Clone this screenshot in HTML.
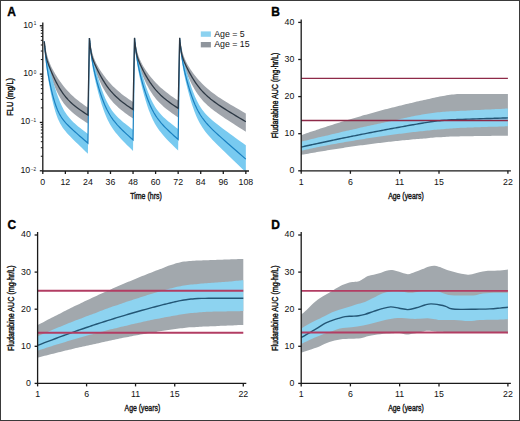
<!DOCTYPE html><html><head><meta charset="utf-8"><style>html,body{margin:0;padding:0;background:#fff;overflow:hidden}svg{display:block}text{font-family:"Liberation Sans",sans-serif}</style></head><body>
<svg width="520" height="421" viewBox="0 0 520 421">
<rect x="0" y="0" width="520" height="421" fill="#fff"/>
<rect x="0.5" y="0.5" width="519" height="420" fill="none" stroke="#3a3a3a" stroke-width="1"/>
<text x="7.2" y="15.8" font-size="12" font-weight="bold" fill="#000" stroke="#000" stroke-width="0.35">A</text>
<text x="271.2" y="15.7" font-size="12" font-weight="bold" fill="#000" stroke="#000" stroke-width="0.35">B</text>
<text x="7.6" y="228.5" font-size="12" font-weight="bold" fill="#000" stroke="#000" stroke-width="0.35">C</text>
<text x="271.2" y="228.5" font-size="12" font-weight="bold" fill="#000" stroke="#000" stroke-width="0.35">D</text>
<defs><clipPath id="clipA"><rect x="42.8" y="20" width="203.54" height="151"/></clipPath></defs>
<g clip-path="url(#clipA)">
<polygon points="44.3,40.3 44.34,40.56 44.34,40.57 44.35,40.58 44.35,40.6 44.35,40.61 44.35,40.63 44.35,40.65 44.36,40.66 44.36,40.68 44.36,40.7 44.37,40.72 44.37,40.74 44.37,40.77 44.38,40.79 44.38,40.82 44.38,40.84 44.39,40.87 44.39,40.9 44.4,40.93 44.4,40.97 44.41,41 44.41,41.04 44.42,41.07 44.42,41.11 44.43,41.16 44.44,41.2 44.44,41.25 44.45,41.29 44.46,41.35 44.47,41.4 44.48,41.46 44.49,41.51 44.49,41.58 44.5,41.64 44.52,41.71 44.53,41.78 44.54,41.86 44.55,41.94 44.56,42.02 44.58,42.11 44.59,42.2 44.61,42.3 44.62,42.4 44.64,42.5 44.65,42.61 44.67,42.73 44.69,42.85 44.71,42.98 44.73,43.11 44.76,43.25 44.78,43.4 44.8,43.55 44.83,43.72 44.86,43.88 44.89,44.06 44.92,44.24 44.95,44.44 44.98,44.64 45.02,44.85 45.06,45.07 45.09,45.3 45.14,45.54 45.18,45.79 45.22,46.05 45.27,46.32 45.32,46.61 45.38,46.9 45.43,47.21 45.49,47.53 45.55,47.86 45.62,48.2 45.69,48.56 45.76,48.93 45.83,49.32 45.91,49.71 46,50.12 46.09,50.55 46.18,50.99 46.28,51.44 46.38,51.91 46.49,52.38 46.6,52.88 46.72,53.38 46.85,53.9 46.98,54.44 47.12,54.98 47.26,55.54 47.42,56.11 47.58,56.69 47.75,57.28 47.93,57.88 48.12,58.49 48.32,59.11 48.53,59.75 48.75,60.39 48.98,61.04 49.22,61.7 49.48,62.37 49.75,63.06 50.03,63.75 50.33,64.45 50.64,65.17 50.97,65.9 51.32,66.64 51.68,67.4 52.07,68.17 52.47,68.96 52.9,69.77 53.34,70.61 53.82,71.46 54.31,72.34 54.83,73.24 55.38,74.17 55.96,75.12 56.56,76.1 57.2,77.11 57.87,78.15 58.58,79.22 59.32,80.32 60.11,81.44 60.93,82.59 61.79,83.76 62.71,84.96 63.66,86.18 64.67,87.43 65.73,88.69 66.85,89.96 68.02,91.26 69.26,92.56 70.56,93.88 71.92,95.2 73.36,96.54 74.88,97.88 76.47,99.23 78.14,100.58 79.9,101.95 81.76,103.33 83.71,104.72 85.76,106.14 87.92,107.57 87.92,107.5 89.42,37.99 89.46,38.24 89.46,38.25 89.47,38.27 89.47,38.28 89.47,38.3 89.47,38.31 89.47,38.33 89.48,38.35 89.48,38.37 89.48,38.38 89.49,38.41 89.49,38.43 89.49,38.45 89.5,38.47 89.5,38.5 89.5,38.52 89.51,38.55 89.51,38.58 89.52,38.61 89.52,38.64 89.53,38.68 89.53,38.71 89.54,38.75 89.54,38.79 89.55,38.83 89.56,38.87 89.56,38.92 89.57,38.97 89.58,39.02 89.59,39.07 89.6,39.12 89.61,39.18 89.61,39.24 89.62,39.31 89.64,39.37 89.65,39.44 89.66,39.52 89.67,39.6 89.68,39.68 89.7,39.76 89.71,39.85 89.73,39.95 89.74,40.05 89.76,40.15 89.77,40.26 89.79,40.37 89.81,40.49 89.83,40.62 89.85,40.75 89.88,40.89 89.9,41.03 89.92,41.18 89.95,41.34 89.98,41.5 90.01,41.68 90.04,41.86 90.07,42.05 90.1,42.25 90.14,42.45 90.18,42.67 90.21,42.89 90.26,43.13 90.3,43.38 90.34,43.63 90.39,43.9 90.44,44.18 90.5,44.47 90.55,44.77 90.61,45.08 90.67,45.41 90.74,45.75 90.81,46.1 90.88,46.46 90.95,46.84 91.03,47.23 91.12,47.63 91.21,48.05 91.3,48.48 91.4,48.92 91.5,49.38 91.61,49.85 91.72,50.34 91.84,50.83 91.97,51.34 92.1,51.86 92.24,52.4 92.38,52.94 92.54,53.5 92.7,54.07 92.87,54.64 93.05,55.23 93.24,55.83 93.44,56.43 93.65,57.05 93.87,57.67 94.1,58.3 94.34,58.94 94.6,59.58 94.87,60.24 95.15,60.9 95.45,61.57 95.76,62.25 96.09,62.94 96.44,63.65 96.8,64.36 97.19,65.09 97.59,65.83 98.02,66.59 98.46,67.36 98.94,68.15 99.43,68.97 99.95,69.8 100.5,70.66 101.08,71.54 101.68,72.44 102.32,73.37 102.99,74.32 103.7,75.3 104.44,76.31 105.23,77.34 106.05,78.39 106.91,79.47 107.83,80.57 108.78,81.7 109.79,82.84 110.85,84 111.97,85.19 113.14,86.39 114.38,87.6 115.68,88.83 117.04,90.07 118.48,91.33 120,92.6 121.59,93.88 123.26,95.18 125.02,96.49 126.88,97.82 128.83,99.18 130.88,100.55 133.04,101.96 133.04,101.91 134.54,37.77 134.58,38.02 134.58,38.03 134.59,38.04 134.59,38.06 134.59,38.07 134.59,38.09 134.59,38.1 134.6,38.12 134.6,38.14 134.6,38.16 134.61,38.18 134.61,38.2 134.61,38.22 134.62,38.25 134.62,38.27 134.62,38.3 134.63,38.32 134.63,38.35 134.64,38.38 134.64,38.41 134.65,38.45 134.65,38.48 134.66,38.52 134.66,38.56 134.67,38.6 134.68,38.64 134.68,38.69 134.69,38.73 134.7,38.78 134.71,38.83 134.72,38.89 134.73,38.95 134.73,39.01 134.74,39.07 134.76,39.14 134.77,39.21 134.78,39.28 134.79,39.36 134.8,39.44 134.82,39.52 134.83,39.61 134.85,39.7 134.86,39.8 134.88,39.9 134.89,40.01 134.91,40.12 134.93,40.24 134.95,40.37 134.97,40.5 135,40.63 135.02,40.78 135.04,40.93 135.07,41.08 135.1,41.25 135.13,41.42 135.16,41.6 135.19,41.78 135.22,41.98 135.26,42.18 135.3,42.4 135.33,42.62 135.38,42.85 135.42,43.1 135.46,43.35 135.51,43.61 135.56,43.89 135.62,44.17 135.67,44.47 135.73,44.78 135.79,45.1 135.86,45.44 135.93,45.78 136,46.14 136.07,46.51 136.15,46.9 136.24,47.3 136.33,47.71 136.42,48.13 136.52,48.57 136.62,49.02 136.73,49.48 136.84,49.96 136.96,50.45 137.09,50.95 137.22,51.47 137.36,51.99 137.5,52.53 137.66,53.07 137.82,53.63 137.99,54.2 138.17,54.78 138.36,55.36 138.56,55.96 138.77,56.56 138.99,57.17 139.22,57.79 139.46,58.42 139.72,59.05 139.99,59.69 140.27,60.34 140.57,61 140.88,61.67 141.21,62.34 141.56,63.03 141.92,63.73 142.31,64.44 142.71,65.17 143.14,65.91 143.58,66.67 144.06,67.44 144.55,68.24 145.07,69.05 145.62,69.89 146.2,70.75 146.8,71.63 147.44,72.54 148.11,73.47 148.82,74.43 149.56,75.41 150.35,76.41 151.17,77.44 152.03,78.49 152.95,79.57 153.9,80.67 154.91,81.78 155.97,82.92 157.09,84.07 158.26,85.24 159.5,86.43 160.8,87.63 162.16,88.85 163.6,90.08 165.12,91.32 166.71,92.58 168.38,93.85 170.14,95.15 172,96.46 173.95,97.8 176,99.16 178.16,100.55 178.16,100.5 179.66,37.7 179.7,37.95 179.7,37.96 179.71,37.98 179.71,37.99 179.71,38.01 179.71,38.02 179.72,38.04 179.72,38.06 179.72,38.08 179.72,38.1 179.73,38.12 179.73,38.15 179.74,38.17 179.74,38.2 179.74,38.22 179.75,38.25 179.75,38.28 179.76,38.31 179.76,38.35 179.77,38.38 179.77,38.42 179.78,38.46 179.79,38.5 179.79,38.54 179.8,38.59 179.81,38.64 179.82,38.69 179.82,38.74 179.83,38.8 179.84,38.86 179.85,38.92 179.86,38.99 179.87,39.06 179.89,39.13 179.9,39.21 179.91,39.29 179.92,39.38 179.94,39.47 179.95,39.56 179.97,39.66 179.99,39.77 180,39.88 180.02,39.99 180.04,40.12 180.06,40.24 180.09,40.38 180.11,40.52 180.13,40.67 180.16,40.82 180.19,40.99 180.22,41.16 180.25,41.34 180.28,41.53 180.31,41.73 180.35,41.94 180.39,42.16 180.43,42.38 180.47,42.62 180.51,42.87 180.56,43.13 180.61,43.41 180.66,43.69 180.72,43.99 180.78,44.3 180.84,44.62 180.9,44.96 180.97,45.31 181.04,45.67 181.12,46.05 181.2,46.45 181.28,46.85 181.37,47.28 181.47,47.71 181.57,48.16 181.67,48.63 181.78,49.11 181.9,49.61 182.02,50.12 182.16,50.64 182.29,51.18 182.44,51.73 182.59,52.29 182.75,52.86 182.92,53.45 183.1,54.05 183.29,54.65 183.49,55.27 183.71,55.9 183.93,56.54 184.16,57.18 184.41,57.84 184.68,58.5 184.95,59.17 185.24,59.85 185.55,60.54 185.88,61.23 186.22,61.94 186.58,62.66 186.97,63.4 187.37,64.14 187.79,64.91 188.24,65.68 188.72,66.48 189.22,67.3 189.74,68.14 190.3,69 190.89,69.89 191.51,70.8 192.16,71.73 192.85,72.7 193.58,73.69 194.35,74.71 195.16,75.76 196.02,76.83 196.92,77.93 197.87,79.05 198.88,80.2 199.94,81.37 201.06,82.57 202.24,83.78 203.49,85.01 204.81,86.26 206.2,87.53 207.66,88.81 209.21,90.11 210.84,91.43 212.56,92.76 214.38,94.11 216.3,95.49 218.32,96.88 220.45,98.31 222.71,99.77 225.09,101.27 227.59,102.81 230.24,104.41 233.03,106.06 235.98,107.77 239.09,109.56 242.38,111.43 245.84,113.38 245.84,131.74 242.38,129.54 239.09,127.45 235.98,125.46 233.03,123.57 230.24,121.77 227.59,120.04 225.09,118.39 222.71,116.81 220.45,115.28 218.32,113.8 216.3,112.36 214.38,110.94 212.56,109.56 210.84,108.19 209.21,106.83 207.66,105.47 206.2,104.11 204.81,102.75 203.49,101.38 202.24,100.01 201.06,98.62 199.94,97.24 198.88,95.84 197.87,94.45 196.92,93.06 196.02,91.67 195.16,90.29 194.35,88.93 193.58,87.58 192.85,86.25 192.16,84.95 191.51,83.67 190.89,82.43 190.3,81.21 189.74,80.03 189.22,78.89 188.72,77.78 188.24,76.7 187.79,75.67 187.37,74.67 186.97,73.71 186.58,72.78 186.22,71.9 185.88,71.04 185.55,70.23 185.24,69.45 184.95,68.7 184.68,67.98 184.41,67.29 184.16,66.64 183.93,66.01 183.71,65.41 183.49,64.83 183.29,64.27 183.1,63.74 182.92,63.23 182.75,62.73 182.59,62.24 182.44,61.77 182.29,61.31 182.16,60.85 182.02,60.4 181.9,59.96 181.78,59.51 181.67,59.07 181.57,58.62 181.47,58.17 181.37,57.71 181.28,57.25 181.2,56.79 181.12,56.32 181.04,55.84 180.97,55.36 180.9,54.88 180.84,54.39 180.78,53.9 180.72,53.41 180.66,52.92 180.61,52.43 180.56,51.94 180.51,51.45 180.47,50.97 180.43,50.5 180.39,50.03 180.35,49.57 180.31,49.11 180.28,48.67 180.25,48.24 180.22,47.82 180.19,47.4 180.16,47 180.13,46.61 180.11,46.24 180.09,45.87 180.06,45.52 180.04,45.18 180.02,44.85 180,44.53 179.99,44.23 179.97,43.93 179.95,43.65 179.94,43.38 179.92,43.12 179.91,42.87 179.9,42.63 179.89,42.41 179.87,42.19 179.86,41.98 179.85,41.78 179.84,41.59 179.83,41.41 179.82,41.23 179.82,41.07 179.81,40.91 179.8,40.76 179.79,40.62 179.79,40.48 179.78,40.35 179.77,40.23 179.77,40.11 179.76,40 179.76,39.89 179.75,39.79 179.75,39.69 179.74,39.6 179.74,39.51 179.74,39.43 179.73,39.35 179.73,39.27 179.72,39.2 179.72,39.14 179.72,39.07 179.72,39.01 179.71,38.95 179.71,38.9 179.71,38.85 179.71,38.8 179.7,38.75 179.7,38.7 179.66,37.89 178.16,117.35 178.16,117.46 176,116 173.95,114.59 172,113.21 170.14,111.86 168.38,110.54 166.71,109.24 165.12,107.94 163.6,106.66 162.16,105.37 160.8,104.08 159.5,102.79 158.26,101.49 157.09,100.19 155.97,98.88 154.91,97.56 153.9,96.24 152.95,94.91 152.03,93.59 151.17,92.27 150.35,90.96 149.56,89.66 148.82,88.38 148.11,87.11 147.44,85.86 146.8,84.63 146.2,83.43 145.62,82.26 145.07,81.11 144.55,80 144.06,78.92 143.58,77.87 143.14,76.85 142.71,75.86 142.31,74.91 141.92,74 141.56,73.11 141.21,72.26 140.88,71.44 140.57,70.66 140.27,69.9 139.99,69.18 139.72,68.48 139.46,67.81 139.22,67.17 138.99,66.56 138.77,65.97 138.56,65.4 138.36,64.86 138.17,64.34 137.99,63.83 137.82,63.34 137.66,62.87 137.5,62.41 137.36,61.96 137.22,61.52 137.09,61.08 136.96,60.66 136.84,60.23 136.73,59.81 136.62,59.39 136.52,58.97 136.42,58.54 136.33,58.11 136.24,57.68 136.15,57.25 136.07,56.81 136,56.36 135.93,55.91 135.86,55.46 135.79,55 135.73,54.54 135.67,54.08 135.62,53.61 135.56,53.15 135.51,52.68 135.46,52.22 135.42,51.76 135.38,51.3 135.33,50.85 135.3,50.4 135.26,49.96 135.22,49.52 135.19,49.1 135.16,48.68 135.13,48.27 135.1,47.87 135.07,47.48 135.04,47.1 135.02,46.73 135,46.37 134.97,46.02 134.95,45.68 134.93,45.36 134.91,45.04 134.89,44.73 134.88,44.44 134.86,44.16 134.85,43.88 134.83,43.62 134.82,43.36 134.8,43.12 134.79,42.89 134.78,42.66 134.77,42.44 134.76,42.24 134.74,42.04 134.73,41.85 134.73,41.67 134.72,41.49 134.71,41.33 134.7,41.17 134.69,41.01 134.68,40.87 134.68,40.73 134.67,40.59 134.66,40.47 134.66,40.35 134.65,40.23 134.65,40.12 134.64,40.01 134.64,39.91 134.63,39.82 134.63,39.73 134.62,39.64 134.62,39.55 134.62,39.47 134.61,39.4 134.61,39.33 134.61,39.26 134.6,39.19 134.6,39.13 134.6,39.07 134.59,39.01 134.59,38.96 134.59,38.91 134.59,38.86 134.59,38.81 134.58,38.77 134.58,38.73 134.54,37.91 133.04,118.42 133.04,118.54 130.88,117.07 128.83,115.65 126.88,114.27 125.02,112.92 123.26,111.58 121.59,110.27 120,108.96 118.48,107.66 117.04,106.35 115.68,105.05 114.38,103.73 113.14,102.41 111.97,101.08 110.85,99.74 109.79,98.4 108.78,97.05 107.83,95.7 106.91,94.35 106.05,93 105.23,91.67 104.44,90.34 103.7,89.03 102.99,87.73 102.32,86.46 101.68,85.21 101.08,83.99 100.5,82.79 99.95,81.63 99.43,80.5 98.94,79.4 98.46,78.33 98.02,77.3 97.59,76.3 97.19,75.33 96.8,74.4 96.44,73.51 96.09,72.64 95.76,71.82 95.45,71.02 95.15,70.25 94.87,69.52 94.6,68.82 94.34,68.14 94.1,67.49 93.87,66.87 93.65,66.28 93.44,65.7 93.24,65.15 93.05,64.62 92.87,64.11 92.7,63.62 92.54,63.14 92.38,62.67 92.24,62.22 92.1,61.78 91.97,61.34 91.84,60.91 91.72,60.48 91.61,60.05 91.5,59.63 91.4,59.2 91.3,58.77 91.21,58.34 91.12,57.91 91.03,57.47 90.95,57.02 90.88,56.57 90.81,56.12 90.74,55.66 90.67,55.2 90.61,54.73 90.55,54.27 90.5,53.8 90.44,53.33 90.39,52.86 90.34,52.39 90.3,51.93 90.26,51.47 90.21,51.01 90.18,50.56 90.14,50.12 90.1,49.68 90.07,49.25 90.04,48.83 90.01,48.42 89.98,48.01 89.95,47.62 89.92,47.24 89.9,46.87 89.88,46.51 89.85,46.15 89.83,45.81 89.81,45.49 89.79,45.17 89.77,44.86 89.76,44.56 89.74,44.28 89.73,44 89.71,43.74 89.7,43.48 89.68,43.24 89.67,43 89.66,42.77 89.65,42.56 89.64,42.35 89.62,42.15 89.61,41.96 89.61,41.78 89.6,41.6 89.59,41.43 89.58,41.27 89.57,41.12 89.56,40.97 89.56,40.83 89.55,40.7 89.54,40.57 89.54,40.45 89.53,40.33 89.53,40.22 89.52,40.11 89.52,40.01 89.51,39.92 89.51,39.83 89.5,39.74 89.5,39.65 89.5,39.57 89.49,39.5 89.49,39.43 89.49,39.36 89.48,39.29 89.48,39.23 89.48,39.17 89.47,39.11 89.47,39.06 89.47,39.01 89.47,38.96 89.47,38.91 89.46,38.87 89.46,38.82 89.42,38 87.92,123.44 87.92,123.6 85.76,122.18 83.71,120.81 81.76,119.48 79.9,118.19 78.14,116.93 76.47,115.69 74.88,114.46 73.36,113.25 71.92,112.03 70.56,110.8 69.26,109.57 68.02,108.32 66.85,107.06 65.73,105.78 64.67,104.47 63.66,103.15 62.71,101.81 61.79,100.46 60.93,99.09 60.11,97.72 59.32,96.34 58.58,94.97 57.87,93.6 57.2,92.24 56.56,90.9 55.96,89.58 55.38,88.27 54.83,86.99 54.31,85.74 53.82,84.52 53.34,83.34 52.9,82.18 52.47,81.06 52.07,79.97 51.68,78.92 51.32,77.91 50.97,76.93 50.64,75.99 50.33,75.08 50.03,74.21 49.75,73.37 49.48,72.57 49.22,71.8 48.98,71.06 48.75,70.35 48.53,69.67 48.32,69.02 48.12,68.39 47.93,67.8 47.75,67.22 47.58,66.67 47.42,66.15 47.26,65.64 47.12,65.15 46.98,64.68 46.85,64.22 46.72,63.78 46.6,63.35 46.49,62.93 46.38,62.51 46.28,62.11 46.18,61.71 46.09,61.32 46,60.93 45.91,60.54 45.83,60.16 45.76,59.78 45.69,59.39 45.62,59.01 45.55,58.63 45.49,58.24 45.43,57.86 45.38,57.47 45.32,57.09 45.27,56.71 45.22,56.32 45.18,55.94 45.14,55.56 45.09,55.19 45.06,54.81 45.02,54.45 44.98,54.08 44.95,53.72 44.92,53.37 44.89,53.02 44.86,52.68 44.83,52.34 44.8,52.01 44.78,51.69 44.76,51.38 44.73,51.07 44.71,50.78 44.69,50.49 44.67,50.21 44.65,49.94 44.64,49.68 44.62,49.42 44.61,49.18 44.59,48.94 44.58,48.71 44.56,48.49 44.55,48.28 44.54,48.07 44.53,47.87 44.52,47.68 44.5,47.5 44.49,47.33 44.49,47.16 44.48,47 44.47,46.84 44.46,46.7 44.45,46.55 44.44,46.42 44.44,46.29 44.43,46.16 44.42,46.04 44.42,45.93 44.41,45.82 44.41,45.72 44.4,45.62 44.4,45.52 44.39,45.43 44.39,45.35 44.38,45.27 44.38,45.19 44.38,45.11 44.37,45.04 44.37,44.97 44.37,44.91 44.36,44.84 44.36,44.79 44.36,44.73 44.35,44.68 44.35,44.62 44.35,44.58 44.35,44.53 44.35,44.49 44.34,44.44 44.34,44.4 44.3,43.62" fill="#a0a5ac"/>
<polygon points="44.3,41.07 44.34,41.5 44.34,41.52 44.35,41.54 44.35,41.57 44.35,41.59 44.35,41.62 44.35,41.64 44.36,41.67 44.36,41.7 44.36,41.74 44.37,41.77 44.37,41.81 44.37,41.84 44.38,41.88 44.38,41.92 44.38,41.97 44.39,42.01 44.39,42.06 44.4,42.11 44.4,42.16 44.41,42.21 44.41,42.27 44.42,42.33 44.42,42.39 44.43,42.46 44.44,42.52 44.44,42.59 44.45,42.67 44.46,42.75 44.47,42.83 44.48,42.91 44.49,43 44.49,43.09 44.5,43.19 44.52,43.29 44.53,43.4 44.54,43.51 44.55,43.62 44.56,43.74 44.58,43.86 44.59,43.99 44.61,44.13 44.62,44.27 44.64,44.41 44.65,44.56 44.67,44.72 44.69,44.88 44.71,45.05 44.73,45.22 44.76,45.4 44.78,45.59 44.8,45.78 44.83,45.98 44.86,46.19 44.89,46.4 44.92,46.62 44.95,46.85 44.98,47.08 45.02,47.32 45.06,47.57 45.09,47.82 45.14,48.08 45.18,48.35 45.22,48.63 45.27,48.92 45.32,49.21 45.38,49.51 45.43,49.83 45.49,50.15 45.55,50.48 45.62,50.82 45.69,51.17 45.76,51.53 45.83,51.9 45.91,52.29 46,52.69 46.09,53.11 46.18,53.53 46.28,53.98 46.38,54.44 46.49,54.93 46.6,55.43 46.72,55.95 46.85,56.5 46.98,57.07 47.12,57.66 47.26,58.29 47.42,58.94 47.58,59.62 47.75,60.34 47.93,61.08 48.12,61.87 48.32,62.69 48.53,63.54 48.75,64.44 48.98,65.38 49.22,66.37 49.48,67.39 49.75,68.47 50.03,69.59 50.33,70.77 50.64,71.99 50.97,73.27 51.32,74.59 51.68,75.98 52.07,77.41 52.47,78.9 52.9,80.45 53.34,82.05 53.82,83.7 54.31,85.4 54.83,87.14 55.38,88.94 55.96,90.77 56.56,92.63 57.2,94.52 57.87,96.44 58.58,98.36 59.32,100.29 60.11,102.21 60.93,104.11 61.79,105.99 62.71,107.83 63.66,109.63 64.67,111.38 65.73,113.08 66.85,114.72 68.02,116.3 69.26,117.84 70.56,119.33 71.92,120.78 73.36,122.2 74.88,123.61 76.47,125.01 78.14,126.42 79.9,127.84 81.76,129.3 83.71,130.8 85.76,132.35 87.92,133.95 87.92,133.71 89.42,38 89.46,38.49 89.46,38.52 89.47,38.54 89.47,38.57 89.47,38.6 89.47,38.63 89.47,38.66 89.48,38.7 89.48,38.73 89.48,38.77 89.49,38.81 89.49,38.85 89.49,38.89 89.5,38.94 89.5,38.99 89.5,39.04 89.51,39.09 89.51,39.14 89.52,39.2 89.52,39.26 89.53,39.32 89.53,39.39 89.54,39.46 89.54,39.53 89.55,39.6 89.56,39.68 89.56,39.77 89.57,39.85 89.58,39.94 89.59,40.04 89.6,40.14 89.61,40.24 89.61,40.35 89.62,40.46 89.64,40.57 89.65,40.7 89.66,40.82 89.67,40.96 89.68,41.09 89.7,41.24 89.71,41.39 89.73,41.54 89.74,41.7 89.76,41.87 89.77,42.04 89.79,42.22 89.81,42.41 89.83,42.6 89.85,42.8 89.88,43.01 89.9,43.22 89.92,43.44 89.95,43.67 89.98,43.9 90.01,44.15 90.04,44.39 90.07,44.65 90.1,44.91 90.14,45.18 90.18,45.46 90.21,45.74 90.26,46.03 90.3,46.33 90.34,46.63 90.39,46.95 90.44,47.27 90.5,47.59 90.55,47.93 90.61,48.27 90.67,48.62 90.74,48.97 90.81,49.34 90.88,49.71 90.95,50.1 91.03,50.49 91.12,50.9 91.21,51.32 91.3,51.75 91.4,52.19 91.5,52.65 91.61,53.12 91.72,53.61 91.84,54.12 91.97,54.65 92.1,55.2 92.24,55.78 92.38,56.38 92.54,57 92.7,57.65 92.87,58.33 93.05,59.05 93.24,59.79 93.44,60.57 93.65,61.39 93.87,62.24 94.1,63.13 94.34,64.06 94.6,65.04 94.87,66.06 95.15,67.12 95.45,68.24 95.76,69.4 96.09,70.61 96.44,71.86 96.8,73.17 97.19,74.53 97.59,75.95 98.02,77.41 98.46,78.92 98.94,80.49 99.43,82.1 99.95,83.76 100.5,85.46 101.08,87.2 101.68,88.97 102.32,90.77 102.99,92.6 103.7,94.44 104.44,96.29 105.23,98.14 106.05,99.97 106.91,101.8 107.83,103.59 108.78,105.35 109.79,107.07 110.85,108.75 111.97,110.38 113.14,111.96 114.38,113.5 115.68,115 117.04,116.47 118.48,117.91 120,119.33 121.59,120.75 123.26,122.18 125.02,123.62 126.88,125.09 128.83,126.6 130.88,128.16 133.04,129.78 133.04,129.58 134.54,37.95 134.58,38.45 134.58,38.47 134.59,38.5 134.59,38.53 134.59,38.55 134.59,38.59 134.59,38.62 134.6,38.65 134.6,38.69 134.6,38.72 134.61,38.76 134.61,38.8 134.61,38.85 134.62,38.89 134.62,38.94 134.62,38.99 134.63,39.04 134.63,39.1 134.64,39.15 134.64,39.21 134.65,39.27 134.65,39.34 134.66,39.41 134.66,39.48 134.67,39.56 134.68,39.63 134.68,39.72 134.69,39.8 134.7,39.89 134.71,39.99 134.72,40.09 134.73,40.19 134.73,40.3 134.74,40.41 134.76,40.52 134.77,40.65 134.78,40.77 134.79,40.9 134.8,41.04 134.82,41.18 134.83,41.33 134.85,41.49 134.86,41.65 134.88,41.82 134.89,41.99 134.91,42.17 134.93,42.35 134.95,42.55 134.97,42.75 135,42.95 135.02,43.16 135.04,43.38 135.07,43.61 135.1,43.84 135.13,44.09 135.16,44.33 135.19,44.59 135.22,44.85 135.26,45.12 135.3,45.39 135.33,45.68 135.38,45.97 135.42,46.26 135.46,46.57 135.51,46.88 135.56,47.2 135.62,47.52 135.67,47.86 135.73,48.2 135.79,48.54 135.86,48.9 135.93,49.27 136,49.64 136.07,50.02 136.15,50.42 136.24,50.82 136.33,51.24 136.42,51.67 136.52,52.11 136.62,52.56 136.73,53.04 136.84,53.53 136.96,54.03 137.09,54.56 137.22,55.11 137.36,55.68 137.5,56.28 137.66,56.9 137.82,57.55 137.99,58.23 138.17,58.94 138.36,59.68 138.56,60.46 138.77,61.27 138.99,62.12 139.22,63 139.46,63.93 139.72,64.9 139.99,65.92 140.27,66.98 140.57,68.08 140.88,69.24 141.21,70.44 141.56,71.69 141.92,72.99 142.31,74.34 142.71,75.74 143.14,77.19 143.58,78.69 144.06,80.24 144.55,81.84 145.07,83.48 145.62,85.17 146.2,86.89 146.8,88.64 147.44,90.42 148.11,92.22 148.82,94.04 149.56,95.86 150.35,97.68 151.17,99.5 152.03,101.29 152.95,103.05 153.9,104.79 154.91,106.48 155.97,108.13 157.09,109.74 158.26,111.3 159.5,112.82 160.8,114.3 162.16,115.75 163.6,117.18 165.12,118.59 166.71,120 168.38,121.42 170.14,122.86 172,124.33 173.95,125.83 176,127.39 178.16,129 178.16,128.81 179.66,37.95 179.7,38.44 179.7,38.46 179.71,38.49 179.71,38.52 179.71,38.55 179.71,38.59 179.72,38.62 179.72,38.66 179.72,38.69 179.72,38.73 179.73,38.78 179.73,38.82 179.74,38.87 179.74,38.92 179.74,38.97 179.75,39.02 179.75,39.08 179.76,39.14 179.76,39.21 179.77,39.27 179.77,39.34 179.78,39.42 179.79,39.49 179.79,39.57 179.8,39.66 179.81,39.75 179.82,39.84 179.82,39.94 179.83,40.04 179.84,40.15 179.85,40.26 179.86,40.38 179.87,40.5 179.89,40.63 179.9,40.76 179.91,40.9 179.92,41.05 179.94,41.2 179.95,41.36 179.97,41.53 179.99,41.7 180,41.88 180.02,42.06 180.04,42.26 180.06,42.46 180.09,42.67 180.11,42.88 180.13,43.1 180.16,43.34 180.19,43.57 180.22,43.82 180.25,44.08 180.28,44.34 180.31,44.61 180.35,44.89 180.39,45.17 180.43,45.47 180.47,45.77 180.51,46.08 180.56,46.4 180.61,46.72 180.66,47.06 180.72,47.4 180.78,47.75 180.84,48.11 180.9,48.47 180.97,48.85 181.04,49.23 181.12,49.63 181.2,50.04 181.28,50.45 181.37,50.88 181.47,51.33 181.57,51.79 181.67,52.26 181.78,52.75 181.9,53.26 182.02,53.78 182.16,54.33 182.29,54.91 182.44,55.5 182.59,56.13 182.75,56.78 182.92,57.46 183.1,58.18 183.29,58.93 183.49,59.72 183.71,60.54 183.93,61.41 184.16,62.32 184.41,63.27 184.68,64.27 184.95,65.31 185.24,66.41 185.55,67.55 185.88,68.75 186.22,70 186.58,71.31 186.97,72.67 187.37,74.09 187.79,75.57 188.24,77.1 188.72,78.69 189.22,80.33 189.74,82.02 190.3,83.76 190.89,85.55 191.51,87.38 192.16,89.24 192.85,91.14 193.58,93.05 194.35,94.97 195.16,96.9 196.02,98.81 196.92,100.71 197.87,102.58 198.88,104.42 199.94,106.21 201.06,107.96 202.24,109.65 203.49,111.3 204.81,112.9 206.2,114.46 207.66,115.98 209.21,117.49 210.84,118.98 212.56,120.48 214.38,121.99 216.3,123.52 218.32,125.1 220.45,126.73 222.71,128.42 225.09,130.18 227.59,132.03 230.24,133.96 233.03,136 235.98,138.15 239.09,140.4 242.38,142.79 245.84,145.3 245.84,172.21 242.38,168.9 239.09,165.76 235.98,162.78 233.03,159.96 230.24,157.28 227.59,154.73 225.09,152.31 222.71,150.01 220.45,147.82 218.32,145.72 216.3,143.71 214.38,141.76 212.56,139.88 210.84,138.04 209.21,136.24 207.66,134.45 206.2,132.67 204.81,130.88 203.49,129.07 202.24,127.23 201.06,125.36 199.94,123.44 198.88,121.48 197.87,119.49 196.92,117.45 196.02,115.39 195.16,113.31 194.35,111.22 193.58,109.12 192.85,107.03 192.16,104.96 191.51,102.92 190.89,100.91 190.3,98.94 189.74,97.02 189.22,95.14 188.72,93.32 188.24,91.55 187.79,89.84 187.37,88.19 186.97,86.59 186.58,85.05 186.22,83.56 185.88,82.12 185.55,80.73 185.24,79.38 184.95,78.08 184.68,76.81 184.41,75.58 184.16,74.39 183.93,73.22 183.71,72.09 183.49,70.98 183.29,69.9 183.1,68.83 182.92,67.79 182.75,66.77 182.59,65.77 182.44,64.79 182.29,63.83 182.16,62.88 182.02,61.96 181.9,61.05 181.78,60.17 181.67,59.3 181.57,58.46 181.47,57.63 181.37,56.83 181.28,56.05 181.2,55.29 181.12,54.56 181.04,53.84 180.97,53.15 180.9,52.48 180.84,51.84 180.78,51.22 180.72,50.62 180.66,50.04 180.61,49.48 180.56,48.95 180.51,48.44 180.47,47.94 180.43,47.47 180.39,47.02 180.35,46.58 180.31,46.17 180.28,45.77 180.25,45.39 180.22,45.03 180.19,44.68 180.16,44.35 180.13,44.03 180.11,43.73 180.09,43.45 180.06,43.17 180.04,42.91 180.02,42.66 180,42.42 179.99,42.2 179.97,41.98 179.95,41.78 179.94,41.59 179.92,41.4 179.91,41.23 179.9,41.06 179.89,40.9 179.87,40.75 179.86,40.61 179.85,40.47 179.84,40.34 179.83,40.22 179.82,40.1 179.82,39.99 179.81,39.88 179.8,39.78 179.79,39.69 179.79,39.6 179.78,39.51 179.77,39.43 179.77,39.36 179.76,39.28 179.76,39.21 179.75,39.15 179.75,39.09 179.74,39.03 179.74,38.97 179.74,38.92 179.73,38.87 179.73,38.82 179.72,38.77 179.72,38.73 179.72,38.69 179.72,38.65 179.71,38.61 179.71,38.58 179.71,38.55 179.71,38.51 179.7,38.48 179.7,38.46 179.66,37.94 178.16,150.06 178.16,150.61 176,148.51 173.95,146.5 172,144.57 170.14,142.71 168.38,140.9 166.71,139.15 165.12,137.43 163.6,135.73 162.16,134.04 160.8,132.36 159.5,130.67 158.26,128.95 157.09,127.21 155.97,125.44 154.91,123.63 153.9,121.79 152.95,119.91 152.03,117.99 151.17,116.05 150.35,114.09 149.56,112.11 148.82,110.13 148.11,108.16 147.44,106.19 146.8,104.24 146.2,102.32 145.62,100.43 145.07,98.58 144.55,96.77 144.06,95.01 143.58,93.29 143.14,91.62 142.71,90 142.31,88.43 141.92,86.92 141.56,85.45 141.21,84.02 140.88,82.65 140.57,81.32 140.27,80.02 139.99,78.77 139.72,77.56 139.46,76.38 139.22,75.23 138.99,74.11 138.77,73.02 138.56,71.95 138.36,70.9 138.17,69.88 137.99,68.88 137.82,67.89 137.66,66.93 137.5,65.98 137.36,65.05 137.22,64.13 137.09,63.23 136.96,62.35 136.84,61.49 136.73,60.64 136.62,59.82 136.52,59.01 136.42,58.21 136.33,57.44 136.24,56.69 136.15,55.95 136.07,55.24 136,54.55 135.93,53.87 135.86,53.22 135.79,52.59 135.73,51.97 135.67,51.38 135.62,50.81 135.56,50.25 135.51,49.72 135.46,49.21 135.42,48.71 135.38,48.24 135.33,47.78 135.3,47.34 135.26,46.91 135.22,46.51 135.19,46.12 135.16,45.75 135.13,45.39 135.1,45.04 135.07,44.72 135.04,44.4 135.02,44.1 135,43.81 134.97,43.54 134.95,43.27 134.93,43.02 134.91,42.78 134.89,42.55 134.88,42.34 134.86,42.13 134.85,41.93 134.83,41.74 134.82,41.55 134.8,41.38 134.79,41.22 134.78,41.06 134.77,40.91 134.76,40.77 134.74,40.63 134.73,40.5 134.73,40.38 134.72,40.26 134.71,40.15 134.7,40.04 134.69,39.94 134.68,39.84 134.68,39.75 134.67,39.66 134.66,39.58 134.66,39.5 134.65,39.42 134.65,39.35 134.64,39.28 134.64,39.21 134.63,39.15 134.63,39.09 134.62,39.04 134.62,38.98 134.62,38.93 134.61,38.88 134.61,38.84 134.61,38.79 134.6,38.75 134.6,38.71 134.6,38.67 134.59,38.64 134.59,38.6 134.59,38.57 134.59,38.54 134.59,38.51 134.58,38.48 134.58,38.46 134.54,37.94 133.04,150.37 133.04,150.93 130.88,148.83 128.83,146.82 126.88,144.89 125.02,143.03 123.26,141.22 121.59,139.46 120,137.74 118.48,136.04 117.04,134.35 115.68,132.66 114.38,130.96 113.14,129.24 111.97,127.49 110.85,125.71 109.79,123.89 108.78,122.03 107.83,120.14 106.91,118.22 106.05,116.26 105.23,114.29 104.44,112.3 103.7,110.31 102.99,108.32 102.32,106.35 101.68,104.39 101.08,102.46 100.5,100.56 99.95,98.71 99.43,96.89 98.94,95.12 98.46,93.39 98.02,91.72 97.59,90.09 97.19,88.52 96.8,87 96.44,85.52 96.09,84.1 95.76,82.72 95.45,81.38 95.15,80.09 94.87,78.83 94.6,77.62 94.34,76.43 94.1,75.28 93.87,74.16 93.65,73.06 93.44,71.99 93.24,70.95 93.05,69.92 92.87,68.92 92.7,67.93 92.54,66.96 92.38,66.01 92.24,65.08 92.1,64.17 91.97,63.27 91.84,62.39 91.72,61.52 91.61,60.67 91.5,59.84 91.4,59.03 91.3,58.24 91.21,57.47 91.12,56.71 91.03,55.98 90.95,55.26 90.88,54.57 90.81,53.9 90.74,53.24 90.67,52.61 90.61,51.99 90.55,51.4 90.5,50.83 90.44,50.27 90.39,49.74 90.34,49.23 90.3,48.73 90.26,48.25 90.21,47.8 90.18,47.35 90.14,46.93 90.1,46.53 90.07,46.14 90.04,45.76 90.01,45.4 89.98,45.06 89.95,44.73 89.92,44.42 89.9,44.12 89.88,43.83 89.85,43.55 89.83,43.29 89.81,43.04 89.79,42.8 89.77,42.57 89.76,42.35 89.74,42.14 89.73,41.94 89.71,41.75 89.7,41.57 89.68,41.39 89.67,41.23 89.66,41.07 89.65,40.92 89.64,40.78 89.62,40.64 89.61,40.51 89.61,40.39 89.6,40.27 89.59,40.16 89.58,40.05 89.57,39.95 89.56,39.85 89.56,39.76 89.55,39.67 89.54,39.59 89.54,39.51 89.53,39.43 89.53,39.36 89.52,39.29 89.52,39.23 89.51,39.16 89.51,39.1 89.5,39.05 89.5,38.99 89.5,38.94 89.49,38.9 89.49,38.85 89.49,38.81 89.48,38.76 89.48,38.72 89.48,38.69 89.47,38.65 89.47,38.62 89.47,38.58 89.47,38.55 89.47,38.52 89.46,38.5 89.46,38.47 89.42,37.96 87.92,153.08 87.92,153.72 85.76,151.65 83.71,149.69 81.76,147.81 79.9,146.03 78.14,144.33 76.47,142.71 74.88,141.16 73.36,139.68 71.92,138.24 70.56,136.86 69.26,135.51 68.02,134.2 66.85,132.9 65.73,131.6 64.67,130.31 63.66,128.99 62.71,127.65 61.79,126.28 60.93,124.86 60.11,123.39 59.32,121.87 58.58,120.29 57.87,118.66 57.2,116.97 56.56,115.25 55.96,113.48 55.38,111.68 54.83,109.86 54.31,108.03 53.82,106.2 53.34,104.37 52.9,102.56 52.47,100.77 52.07,99.01 51.68,97.28 51.32,95.58 50.97,93.93 50.64,92.33 50.33,90.77 50.03,89.25 49.75,87.78 49.48,86.36 49.22,84.98 48.98,83.65 48.75,82.36 48.53,81.11 48.32,79.9 48.12,78.72 47.93,77.58 47.75,76.48 47.58,75.4 47.42,74.35 47.26,73.33 47.12,72.33 46.98,71.36 46.85,70.41 46.72,69.48 46.6,68.57 46.49,67.68 46.38,66.81 46.28,65.96 46.18,65.12 46.09,64.31 46,63.51 45.91,62.73 45.83,61.96 45.76,61.22 45.69,60.49 45.62,59.78 45.55,59.09 45.49,58.42 45.43,57.77 45.38,57.14 45.32,56.52 45.27,55.93 45.22,55.35 45.18,54.79 45.14,54.25 45.09,53.73 45.06,53.23 45.02,52.75 44.98,52.28 44.95,51.83 44.92,51.4 44.89,50.98 44.86,50.58 44.83,50.19 44.8,49.82 44.78,49.47 44.76,49.13 44.73,48.8 44.71,48.49 44.69,48.19 44.67,47.91 44.65,47.63 44.64,47.37 44.62,47.12 44.61,46.88 44.59,46.65 44.58,46.43 44.56,46.22 44.55,46.02 44.54,45.83 44.53,45.65 44.52,45.48 44.5,45.31 44.49,45.15 44.49,45 44.48,44.86 44.47,44.72 44.46,44.59 44.45,44.47 44.44,44.35 44.44,44.24 44.43,44.13 44.42,44.03 44.42,43.93 44.41,43.83 44.41,43.75 44.4,43.66 44.4,43.58 44.39,43.5 44.39,43.43 44.38,43.36 44.38,43.3 44.38,43.23 44.37,43.17 44.37,43.12 44.37,43.06 44.36,43.01 44.36,42.96 44.36,42.92 44.35,42.87 44.35,42.83 44.35,42.79 44.35,42.75 44.35,42.71 44.34,42.68 44.34,42.65 44.3,42.01" fill="#78caf0"/>
<polyline points="44.3,41.19 44.34,41.68 44.34,41.71 44.35,41.74 44.35,41.77 44.35,41.8 44.35,41.83 44.35,41.86 44.36,41.89 44.36,41.93 44.36,41.97 44.37,42.01 44.37,42.05 44.37,42.1 44.38,42.14 44.38,42.19 44.38,42.24 44.39,42.3 44.39,42.35 44.4,42.41 44.4,42.48 44.41,42.54 44.41,42.61 44.42,42.69 44.42,42.76 44.43,42.84 44.44,42.93 44.44,43.02 44.45,43.11 44.46,43.21 44.47,43.31 44.48,43.42 44.49,43.53 44.49,43.65 44.5,43.78 44.52,43.91 44.53,44.04 44.54,44.19 44.55,44.34 44.56,44.5 44.58,44.66 44.59,44.84 44.61,45.02 44.62,45.21 44.64,45.41 44.65,45.62 44.67,45.84 44.69,46.07 44.71,46.31 44.73,46.57 44.76,46.83 44.78,47.11 44.8,47.39 44.83,47.7 44.86,48.01 44.89,48.34 44.92,48.68 44.95,49.04 44.98,49.41 45.02,49.8 45.06,50.21 45.09,50.63 45.14,51.07 45.18,51.53 45.22,52 45.27,52.5 45.32,53.01 45.38,53.54 45.43,54.09 45.49,54.66 45.55,55.26 45.62,55.87 45.69,56.5 45.76,57.16 45.83,57.83 45.91,58.53 46,59.25 46.09,59.98 46.18,60.75 46.28,61.53 46.38,62.33 46.49,63.16 46.6,64.01 46.72,64.88 46.85,65.78 46.98,66.69 47.12,67.63 47.26,68.6 47.42,69.59 47.58,70.6 47.75,71.64 47.93,72.71 48.12,73.81 48.32,74.93 48.53,76.09 48.75,77.28 48.98,78.5 49.22,79.76 49.48,81.05 49.75,82.38 50.03,83.74 50.33,85.15 50.64,86.59 50.97,88.06 51.32,89.58 51.68,91.13 52.07,92.71 52.47,94.31 52.9,95.95 53.34,97.6 53.82,99.27 54.31,100.94 54.83,102.61 55.38,104.28 55.96,105.93 56.56,107.55 57.2,109.15 57.87,110.71 58.58,112.23 59.32,113.7 60.11,115.13 60.93,116.51 61.79,117.85 62.71,119.14 63.66,120.41 64.67,121.64 65.73,122.87 66.85,124.08 68.02,125.29 69.26,126.52 70.56,127.77 71.92,129.05 73.36,130.37 74.88,131.73 76.47,133.15 78.14,134.64 79.9,136.19 81.76,137.81 83.71,139.52 85.76,141.31 87.92,143.19 87.92,142.81 89.42,38 89.46,38.39 89.46,38.41 89.47,38.43 89.47,38.45 89.47,38.47 89.47,38.5 89.47,38.52 89.48,38.55 89.48,38.58 89.48,38.61 89.49,38.64 89.49,38.67 89.49,38.71 89.5,38.75 89.5,38.78 89.5,38.82 89.51,38.87 89.51,38.91 89.52,38.96 89.52,39.01 89.53,39.06 89.53,39.12 89.54,39.17 89.54,39.23 89.55,39.3 89.56,39.36 89.56,39.43 89.57,39.51 89.58,39.59 89.59,39.67 89.6,39.75 89.61,39.84 89.61,39.94 89.62,40.04 89.64,40.14 89.65,40.25 89.66,40.36 89.67,40.48 89.68,40.61 89.7,40.74 89.71,40.88 89.73,41.03 89.74,41.18 89.76,41.34 89.77,41.51 89.79,41.69 89.81,41.87 89.83,42.07 89.85,42.27 89.88,42.48 89.9,42.71 89.92,42.94 89.95,43.19 89.98,43.44 90.01,43.71 90.04,43.99 90.07,44.29 90.1,44.59 90.14,44.91 90.18,45.25 90.21,45.6 90.26,45.96 90.3,46.34 90.34,46.74 90.39,47.16 90.44,47.59 90.5,48.04 90.55,48.5 90.61,48.99 90.67,49.5 90.74,50.02 90.81,50.57 90.88,51.13 90.95,51.72 91.03,52.33 91.12,52.95 91.21,53.6 91.3,54.27 91.4,54.97 91.5,55.68 91.61,56.42 91.72,57.18 91.84,57.96 91.97,58.76 92.1,59.59 92.24,60.43 92.38,61.3 92.54,62.19 92.7,63.11 92.87,64.04 93.05,65 93.24,65.98 93.44,66.98 93.65,68.01 93.87,69.06 94.1,70.14 94.34,71.24 94.6,72.37 94.87,73.53 95.15,74.72 95.45,75.94 95.76,77.2 96.09,78.49 96.44,79.82 96.8,81.18 97.19,82.58 97.59,84.03 98.02,85.51 98.46,87.04 98.94,88.6 99.43,90.21 99.95,91.85 100.5,93.53 101.08,95.25 101.68,96.99 102.32,98.76 102.99,100.54 103.7,102.34 104.44,104.15 105.23,105.96 106.05,107.76 106.91,109.55 107.83,111.32 108.78,113.07 109.79,114.79 110.85,116.48 111.97,118.14 113.14,119.78 114.38,121.39 115.68,122.99 117.04,124.57 118.48,126.15 120,127.74 121.59,129.35 123.26,130.98 125.02,132.66 126.88,134.38 128.83,136.16 130.88,138 133.04,139.93 133.04,139.59 134.54,37.98 134.58,38.36 134.58,38.38 134.59,38.4 134.59,38.43 134.59,38.45 134.59,38.47 134.59,38.5 134.6,38.53 134.6,38.56 134.6,38.59 134.61,38.62 134.61,38.65 134.61,38.69 134.62,38.72 134.62,38.76 134.62,38.8 134.63,38.84 134.63,38.89 134.64,38.94 134.64,38.99 134.65,39.04 134.65,39.09 134.66,39.15 134.66,39.21 134.67,39.27 134.68,39.34 134.68,39.41 134.69,39.48 134.7,39.56 134.71,39.64 134.72,39.73 134.73,39.82 134.73,39.91 134.74,40.01 134.76,40.12 134.77,40.22 134.78,40.34 134.79,40.46 134.8,40.59 134.82,40.72 134.83,40.86 134.85,41 134.86,41.16 134.88,41.32 134.89,41.49 134.91,41.66 134.93,41.85 134.95,42.04 134.97,42.24 135,42.46 135.02,42.68 135.04,42.91 135.07,43.16 135.1,43.42 135.13,43.68 135.16,43.96 135.19,44.26 135.22,44.56 135.26,44.88 135.3,45.22 135.33,45.57 135.38,45.93 135.42,46.31 135.46,46.71 135.51,47.12 135.56,47.55 135.62,48 135.67,48.47 135.73,48.96 135.79,49.46 135.86,49.98 135.93,50.53 136,51.09 136.07,51.68 136.15,52.28 136.24,52.91 136.33,53.56 136.42,54.23 136.52,54.92 136.62,55.64 136.73,56.37 136.84,57.13 136.96,57.91 137.09,58.71 137.22,59.53 137.36,60.38 137.5,61.25 137.66,62.13 137.82,63.04 137.99,63.98 138.17,64.93 138.36,65.91 138.56,66.91 138.77,67.93 138.99,68.98 139.22,70.06 139.46,71.16 139.72,72.28 139.99,73.44 140.27,74.62 140.57,75.84 140.88,77.09 141.21,78.38 141.56,79.7 141.92,81.06 142.31,82.45 142.71,83.89 143.14,85.37 143.58,86.88 144.06,88.44 144.55,90.04 145.07,91.67 145.62,93.34 146.2,95.04 146.8,96.78 147.44,98.53 148.11,100.3 148.82,102.09 149.56,103.88 150.35,105.68 151.17,107.46 152.03,109.24 152.95,110.99 153.9,112.73 154.91,114.43 155.97,116.11 157.09,117.76 158.26,119.39 159.5,120.99 160.8,122.58 162.16,124.15 163.6,125.73 165.12,127.31 166.71,128.92 168.38,130.55 170.14,132.22 172,133.93 173.95,135.71 176,137.56 178.16,139.48 178.16,139.15 179.66,37.97 179.7,38.36 179.7,38.38 179.71,38.4 179.71,38.43 179.71,38.45 179.71,38.48 179.72,38.51 179.72,38.54 179.72,38.57 179.72,38.6 179.73,38.63 179.73,38.67 179.74,38.71 179.74,38.75 179.74,38.79 179.75,38.84 179.75,38.88 179.76,38.93 179.76,38.99 179.77,39.04 179.77,39.1 179.78,39.16 179.79,39.23 179.79,39.29 179.8,39.37 179.81,39.44 179.82,39.52 179.82,39.61 179.83,39.7 179.84,39.79 179.85,39.89 179.86,39.99 179.87,40.1 179.89,40.22 179.9,40.34 179.91,40.46 179.92,40.6 179.94,40.74 179.95,40.89 179.97,41.05 179.99,41.21 180,41.38 180.02,41.57 180.04,41.76 180.06,41.96 180.09,42.17 180.11,42.39 180.13,42.63 180.16,42.87 180.19,43.13 180.22,43.4 180.25,43.68 180.28,43.98 180.31,44.29 180.35,44.62 180.39,44.96 180.43,45.32 180.47,45.7 180.51,46.09 180.56,46.5 180.61,46.93 180.66,47.38 180.72,47.84 180.78,48.33 180.84,48.84 180.9,49.37 180.97,49.93 181.04,50.5 181.12,51.1 181.2,51.72 181.28,52.36 181.37,53.03 181.47,53.72 181.57,54.44 181.67,55.18 181.78,55.94 181.9,56.73 182.02,57.55 182.16,58.39 182.29,59.25 182.44,60.14 182.59,61.05 182.75,61.99 182.92,62.95 183.1,63.93 183.29,64.94 183.49,65.98 183.71,67.04 183.93,68.13 184.16,69.25 184.41,70.39 184.68,71.56 184.95,72.77 185.24,74.01 185.55,75.28 185.88,76.59 186.22,77.93 186.58,79.32 186.97,80.75 187.37,82.22 187.79,83.74 188.24,85.3 188.72,86.9 189.22,88.55 189.74,90.25 190.3,91.98 190.89,93.76 191.51,95.57 192.16,97.41 192.85,99.27 193.58,101.16 194.35,103.05 195.16,104.95 196.02,106.84 196.92,108.72 197.87,110.58 198.88,112.42 199.94,114.23 201.06,116.01 202.24,117.75 203.49,119.47 204.81,121.17 206.2,122.84 207.66,124.51 209.21,126.18 210.84,127.86 212.56,129.57 214.38,131.31 216.3,133.11 218.32,134.96 220.45,136.89 222.71,138.9 225.09,141.01 227.59,143.22 230.24,145.54 233.03,147.98 235.98,150.56 239.09,153.27 242.38,156.13 245.84,159.15" fill="none" stroke="#1a80c0" stroke-width="1.2" stroke-miterlimit="12"/>
<polyline points="44.3,41.45 44.34,41.91 44.34,41.93 44.35,41.96 44.35,41.99 44.35,42.01 44.35,42.04 44.35,42.07 44.36,42.11 44.36,42.14 44.36,42.17 44.37,42.21 44.37,42.25 44.37,42.29 44.38,42.34 44.38,42.38 44.38,42.43 44.39,42.48 44.39,42.53 44.4,42.59 44.4,42.64 44.41,42.7 44.41,42.77 44.42,42.83 44.42,42.9 44.43,42.98 44.44,43.06 44.44,43.14 44.45,43.22 44.46,43.31 44.47,43.4 44.48,43.5 44.49,43.6 44.49,43.71 44.5,43.82 44.52,43.94 44.53,44.06 44.54,44.19 44.55,44.32 44.56,44.47 44.58,44.61 44.59,44.77 44.61,44.93 44.62,45.09 44.64,45.27 44.65,45.45 44.67,45.64 44.69,45.84 44.71,46.04 44.73,46.26 44.76,46.48 44.78,46.71 44.8,46.95 44.83,47.2 44.86,47.46 44.89,47.73 44.92,48.01 44.95,48.3 44.98,48.6 45.02,48.91 45.06,49.22 45.09,49.55 45.14,49.89 45.18,50.24 45.22,50.59 45.27,50.96 45.32,51.34 45.38,51.72 45.43,52.11 45.49,52.52 45.55,52.92 45.62,53.34 45.69,53.77 45.76,54.2 45.83,54.63 45.91,55.07 46,55.52 46.09,55.98 46.18,56.43 46.28,56.9 46.38,57.36 46.49,57.83 46.6,58.31 46.72,58.79 46.85,59.27 46.98,59.76 47.12,60.26 47.26,60.76 47.42,61.27 47.58,61.79 47.75,62.32 47.93,62.86 48.12,63.41 48.32,63.98 48.53,64.56 48.75,65.16 48.98,65.78 49.22,66.43 49.48,67.09 49.75,67.78 50.03,68.49 50.33,69.23 50.64,70 50.97,70.79 51.32,71.62 51.68,72.48 52.07,73.37 52.47,74.3 52.9,75.25 53.34,76.25 53.82,77.27 54.31,78.33 54.83,79.41 55.38,80.54 55.96,81.69 56.56,82.86 57.2,84.07 57.87,85.3 58.58,86.55 59.32,87.82 60.11,89.11 60.93,90.41 61.79,91.72 62.71,93.04 63.66,94.35 64.67,95.67 65.73,96.99 66.85,98.29 68.02,99.59 69.26,100.88 70.56,102.17 71.92,103.44 73.36,104.71 74.88,105.97 76.47,107.23 78.14,108.5 79.9,109.78 81.76,111.07 83.71,112.39 85.76,113.73 87.92,115.11 87.92,115.01 89.42,37.99 89.46,38.44 89.46,38.47 89.47,38.49 89.47,38.52 89.47,38.54 89.47,38.57 89.47,38.6 89.48,38.63 89.48,38.67 89.48,38.7 89.49,38.74 89.49,38.78 89.49,38.82 89.5,38.86 89.5,38.9 89.5,38.95 89.51,39 89.51,39.05 89.52,39.1 89.52,39.16 89.53,39.22 89.53,39.28 89.54,39.35 89.54,39.42 89.55,39.49 89.56,39.56 89.56,39.64 89.57,39.73 89.58,39.82 89.59,39.91 89.6,40 89.61,40.1 89.61,40.21 89.62,40.32 89.64,40.44 89.65,40.56 89.66,40.69 89.67,40.82 89.68,40.96 89.7,41.1 89.71,41.26 89.73,41.42 89.74,41.58 89.76,41.76 89.77,41.94 89.79,42.13 89.81,42.33 89.83,42.53 89.85,42.75 89.88,42.97 89.9,43.2 89.92,43.45 89.95,43.7 89.98,43.96 90.01,44.23 90.04,44.52 90.07,44.81 90.1,45.11 90.14,45.43 90.18,45.75 90.21,46.09 90.26,46.44 90.3,46.79 90.34,47.16 90.39,47.54 90.44,47.93 90.5,48.33 90.55,48.74 90.61,49.15 90.67,49.58 90.74,50.02 90.81,50.46 90.88,50.91 90.95,51.37 91.03,51.83 91.12,52.3 91.21,52.78 91.3,53.26 91.4,53.74 91.5,54.23 91.61,54.72 91.72,55.21 91.84,55.71 91.97,56.2 92.1,56.7 92.24,57.2 92.38,57.71 92.54,58.22 92.7,58.73 92.87,59.24 93.05,59.76 93.24,60.29 93.44,60.83 93.65,61.38 93.87,61.94 94.1,62.51 94.34,63.09 94.6,63.7 94.87,64.32 95.15,64.96 95.45,65.63 95.76,66.31 96.09,67.02 96.44,67.76 96.8,68.53 97.19,69.32 97.59,70.14 98.02,71 98.46,71.88 98.94,72.8 99.43,73.74 99.95,74.72 100.5,75.73 101.08,76.77 101.68,77.84 102.32,78.93 102.99,80.06 103.7,81.21 104.44,82.39 105.23,83.58 106.05,84.8 106.91,86.03 107.83,87.29 108.78,88.55 109.79,89.82 110.85,91.1 111.97,92.39 113.14,93.68 114.38,94.97 115.68,96.26 117.04,97.55 118.48,98.85 120,100.14 121.59,101.45 123.26,102.76 125.02,104.08 126.88,105.42 128.83,106.78 130.88,108.16 133.04,109.58 133.04,109.51 134.54,37.84 134.58,38.29 134.58,38.31 134.59,38.33 134.59,38.36 134.59,38.39 134.59,38.42 134.59,38.44 134.6,38.48 134.6,38.51 134.6,38.54 134.61,38.58 134.61,38.62 134.61,38.66 134.62,38.7 134.62,38.74 134.62,38.79 134.63,38.84 134.63,38.89 134.64,38.94 134.64,39 134.65,39.06 134.65,39.12 134.66,39.19 134.66,39.25 134.67,39.33 134.68,39.4 134.68,39.48 134.69,39.56 134.7,39.65 134.71,39.74 134.72,39.84 134.73,39.94 134.73,40.04 134.74,40.15 134.76,40.27 134.77,40.39 134.78,40.51 134.79,40.65 134.8,40.78 134.82,40.93 134.83,41.08 134.85,41.24 134.86,41.4 134.88,41.58 134.89,41.76 134.91,41.94 134.93,42.14 134.95,42.34 134.97,42.56 135,42.78 135.02,43.01 135.04,43.25 135.07,43.5 135.1,43.76 135.13,44.03 135.16,44.31 135.19,44.6 135.22,44.9 135.26,45.22 135.3,45.54 135.33,45.87 135.38,46.21 135.42,46.57 135.46,46.93 135.51,47.31 135.56,47.69 135.62,48.09 135.67,48.49 135.73,48.9 135.79,49.33 135.86,49.76 135.93,50.2 136,50.64 136.07,51.1 136.15,51.55 136.24,52.02 136.33,52.49 136.42,52.96 136.52,53.44 136.62,53.92 136.73,54.41 136.84,54.89 136.96,55.38 137.09,55.87 137.22,56.36 137.36,56.86 137.5,57.36 137.66,57.86 137.82,58.36 137.99,58.87 138.17,59.38 138.36,59.91 138.56,60.44 138.77,60.98 138.99,61.53 139.22,62.09 139.46,62.67 139.72,63.26 139.99,63.87 140.27,64.51 140.57,65.16 140.88,65.84 141.21,66.54 141.56,67.26 141.92,68.01 142.31,68.8 142.71,69.6 143.14,70.44 143.58,71.31 144.06,72.21 144.55,73.14 145.07,74.1 145.62,75.09 146.2,76.1 146.8,77.15 147.44,78.22 148.11,79.33 148.82,80.45 149.56,81.6 150.35,82.77 151.17,83.96 152.03,85.17 152.95,86.39 153.9,87.62 154.91,88.87 155.97,90.12 157.09,91.37 158.26,92.64 159.5,93.9 160.8,95.17 162.16,96.43 163.6,97.71 165.12,98.98 166.71,100.27 168.38,101.56 170.14,102.87 172,104.19 173.95,105.54 176,106.91 178.16,108.32 178.16,108.25 179.66,37.8 179.7,38.25 179.7,38.27 179.71,38.3 179.71,38.32 179.71,38.35 179.71,38.38 179.72,38.41 179.72,38.45 179.72,38.48 179.72,38.52 179.73,38.56 179.73,38.6 179.74,38.64 179.74,38.69 179.74,38.74 179.75,38.79 179.75,38.84 179.76,38.9 179.76,38.96 179.77,39.02 179.77,39.09 179.78,39.16 179.79,39.23 179.79,39.31 179.8,39.39 179.81,39.48 179.82,39.56 179.82,39.66 179.83,39.76 179.84,39.86 179.85,39.97 179.86,40.09 179.87,40.21 179.89,40.34 179.9,40.47 179.91,40.61 179.92,40.76 179.94,40.91 179.95,41.07 179.97,41.24 179.99,41.42 180,41.6 180.02,41.8 180.04,42 180.06,42.21 180.09,42.43 180.11,42.67 180.13,42.91 180.16,43.16 180.19,43.42 180.22,43.7 180.25,43.98 180.28,44.28 180.31,44.59 180.35,44.91 180.39,45.24 180.43,45.58 180.47,45.94 180.51,46.3 180.56,46.68 180.61,47.07 180.66,47.48 180.72,47.89 180.78,48.31 180.84,48.75 180.9,49.19 180.97,49.64 181.04,50.11 181.12,50.58 181.2,51.06 181.28,51.54 181.37,52.03 181.47,52.53 181.57,53.03 181.67,53.54 181.78,54.05 181.9,54.56 182.02,55.07 182.16,55.59 182.29,56.11 182.44,56.63 182.59,57.15 182.75,57.68 182.92,58.21 183.1,58.75 183.29,59.29 183.49,59.84 183.71,60.4 183.93,60.97 184.16,61.56 184.41,62.16 184.68,62.77 184.95,63.41 185.24,64.06 185.55,64.74 185.88,65.44 186.22,66.17 186.58,66.93 186.97,67.72 187.37,68.53 187.79,69.38 188.24,70.26 188.72,71.18 189.22,72.13 189.74,73.11 190.3,74.12 190.89,75.17 191.51,76.25 192.16,77.37 192.85,78.51 193.58,79.68 194.35,80.88 195.16,82.1 196.02,83.35 196.92,84.61 197.87,85.89 198.88,87.19 199.94,88.5 201.06,89.81 202.24,91.14 203.49,92.46 204.81,93.8 206.2,95.13 207.66,96.47 209.21,97.81 210.84,99.16 212.56,100.52 214.38,101.89 216.3,103.27 218.32,104.69 220.45,106.13 222.71,107.61 225.09,109.14 227.59,110.71 230.24,112.35 233.03,114.06 235.98,115.84 239.09,117.7 242.38,119.66 245.84,121.72" fill="none" stroke="#2c3844" stroke-width="1.3" stroke-miterlimit="12"/>
</g>
<g stroke="#1a1a1a" stroke-width="1.3" fill="none">
<path d="M42.8,22.5 V171 H249"/>
<path d="M42.8,171 v3"/>
<path d="M65.36,171 v3"/>
<path d="M87.92,171 v3"/>
<path d="M110.48,171 v3"/>
<path d="M133.04,171 v3"/>
<path d="M155.6,171 v3"/>
<path d="M178.16,171 v3"/>
<path d="M200.72,171 v3"/>
<path d="M223.28,171 v3"/>
<path d="M245.84,171 v3"/>
<path d="M42.8,170.8 h-3"/>
<path d="M42.8,156.25 h-2" stroke-width="1"/>
<path d="M42.8,147.73 h-2" stroke-width="1"/>
<path d="M42.8,141.69 h-2" stroke-width="1"/>
<path d="M42.8,137 h-2" stroke-width="1"/>
<path d="M42.8,133.18 h-2" stroke-width="1"/>
<path d="M42.8,129.94 h-2" stroke-width="1"/>
<path d="M42.8,127.14 h-2" stroke-width="1"/>
<path d="M42.8,124.66 h-2" stroke-width="1"/>
<path d="M42.8,122.45 h-3"/>
<path d="M42.8,107.9 h-2" stroke-width="1"/>
<path d="M42.8,99.38 h-2" stroke-width="1"/>
<path d="M42.8,93.34 h-2" stroke-width="1"/>
<path d="M42.8,88.65 h-2" stroke-width="1"/>
<path d="M42.8,84.83 h-2" stroke-width="1"/>
<path d="M42.8,81.59 h-2" stroke-width="1"/>
<path d="M42.8,78.79 h-2" stroke-width="1"/>
<path d="M42.8,76.31 h-2" stroke-width="1"/>
<path d="M42.8,74.1 h-3"/>
<path d="M42.8,59.55 h-2" stroke-width="1"/>
<path d="M42.8,51.03 h-2" stroke-width="1"/>
<path d="M42.8,44.99 h-2" stroke-width="1"/>
<path d="M42.8,40.3 h-2" stroke-width="1"/>
<path d="M42.8,36.48 h-2" stroke-width="1"/>
<path d="M42.8,33.24 h-2" stroke-width="1"/>
<path d="M42.8,30.44 h-2" stroke-width="1"/>
<path d="M42.8,27.96 h-2" stroke-width="1"/>
<path d="M42.8,25.75 h-3"/>
</g>
<g font-size="8.8" fill="#111" text-anchor="middle">
<text x="42.8" y="184.7">0</text>
<text x="65.36" y="184.7">12</text>
<text x="87.92" y="184.7">24</text>
<text x="110.48" y="184.7">36</text>
<text x="133.04" y="184.7">48</text>
<text x="155.6" y="184.7">60</text>
<text x="178.16" y="184.7">72</text>
<text x="200.72" y="184.7">84</text>
<text x="223.28" y="184.7">96</text>
<text x="245.84" y="184.7">108</text>
</g>
<text x="36.2" y="27.75" font-size="8.8" fill="#111" text-anchor="end">10<tspan font-size="4.6" dy="-2.3" dx="0.7">1</tspan></text>
<text x="36.2" y="76.1" font-size="8.8" fill="#111" text-anchor="end">10<tspan font-size="4.6" dy="-2.3" dx="0.7">0</tspan></text>
<text x="36.2" y="124.45" font-size="8.8" fill="#111" text-anchor="end">10<tspan font-size="4.6" dy="-2.3" dx="0.7">−1</tspan></text>
<text x="36.2" y="172.8" font-size="8.8" fill="#111" text-anchor="end">10<tspan font-size="4.6" dy="-2.3" dx="0.7">−2</tspan></text>
<text transform="translate(13.2,96.8) rotate(-90)" text-anchor="middle" font-size="8.4" fill="#111" stroke="#111" stroke-width="0.4" textLength="37.8" lengthAdjust="spacingAndGlyphs">FLU (mg/L)</text>
<text x="146" y="198.6" text-anchor="middle" font-size="9.6" fill="#111" stroke="#111" stroke-width="0.4" textLength="31.6" lengthAdjust="spacingAndGlyphs">Time (hrs)</text>
<rect x="200.8" y="31.4" width="10.1" height="5.4" fill="#8cd2f0"/>
<rect x="200.8" y="42" width="10.1" height="5.4" fill="#8f959c"/>
<text x="214.2" y="37" font-size="8.8" fill="#111">Age = 5</text>
<text x="214.2" y="47.2" font-size="8.8" fill="#111">Age = 15</text>
<path d="M301.2,135.23 C301.78,135.02 303.54,134.4 304.7,134 C305.87,133.59 307.04,133.18 308.21,132.78 C309.37,132.38 310.54,131.98 311.71,131.58 C312.88,131.18 314.05,130.78 315.21,130.39 C316.38,130 317.55,129.6 318.72,129.21 C319.88,128.82 321.05,128.44 322.22,128.05 C323.39,127.67 324.56,127.28 325.72,126.9 C326.89,126.52 328.06,126.14 329.23,125.76 C330.39,125.39 331.56,125.01 332.73,124.64 C333.9,124.27 335.07,123.9 336.23,123.53 C337.4,123.16 338.57,122.8 339.74,122.43 C340.91,122.07 342.07,121.71 343.24,121.35 C344.41,120.99 345.58,120.63 346.74,120.28 C347.91,119.92 349.08,119.57 350.25,119.22 C351.42,118.87 352.58,118.52 353.75,118.18 C354.92,117.83 356.09,117.49 357.25,117.15 C358.42,116.8 359.59,116.46 360.76,116.13 C361.93,115.79 363.09,115.46 364.26,115.12 C365.43,114.79 366.6,114.46 367.76,114.13 C368.93,113.8 370.1,113.48 371.27,113.15 C372.44,112.83 373.6,112.51 374.77,112.19 C375.94,111.87 377.11,111.55 378.27,111.23 C379.44,110.92 380.61,110.61 381.78,110.29 C382.95,109.98 384.11,109.67 385.28,109.37 C386.45,109.06 387.62,108.76 388.78,108.46 C389.95,108.15 391.12,107.85 392.29,107.56 C393.46,107.26 394.62,106.96 395.79,106.67 C396.96,106.38 398.13,106.08 399.29,105.79 C400.46,105.51 401.63,105.22 402.8,104.93 C403.97,104.65 405.13,104.37 406.3,104.09 C407.47,103.81 408.64,103.53 409.81,103.25 C410.97,102.98 412.14,102.7 413.31,102.43 C414.48,102.16 415.64,101.89 416.81,101.62 C417.98,101.36 419.15,101.09 420.32,100.83 C421.48,100.57 422.65,100.31 423.82,100.05 C424.99,99.79 426.15,99.53 427.32,99.28 C428.49,99.03 429.66,98.77 430.83,98.52 C431.99,98.28 433.16,98.03 434.33,97.78 C435.5,97.54 436.66,97.3 437.83,97.06 C439,96.82 440.17,96.58 441.34,96.36 C442.5,96.13 443.67,95.9 444.84,95.68 C446.01,95.47 447.17,95.25 448.34,95.07 C449.51,94.88 450.68,94.7 451.85,94.56 C453.01,94.41 454.18,94.29 455.35,94.2 C456.52,94.11 457.68,94.06 458.85,94.01 C460.02,93.97 461.19,93.95 462.36,93.94 C463.52,93.92 464.69,93.92 465.86,93.92 C467.03,93.91 468.19,93.92 469.36,93.92 C470.53,93.92 471.7,93.93 472.87,93.93 C474.03,93.94 475.2,93.94 476.37,93.95 C477.54,93.95 478.71,93.96 479.87,93.96 C481.04,93.97 482.21,93.97 483.38,93.98 C484.54,93.99 485.71,93.99 486.88,94 C488.05,94 489.22,94.01 490.38,94.02 C491.55,94.02 492.72,94.03 493.89,94.03 C495.05,94.04 496.22,94.05 497.39,94.05 C498.56,94.06 499.73,94.06 500.89,94.07 C502.06,94.08 503.23,94.08 504.4,94.09 C505.56,94.09 507.32,94.1 507.9,94.1 L507.9,135.63 C507.32,135.64 505.56,135.67 504.4,135.69 C503.23,135.7 502.06,135.72 500.89,135.74 C499.73,135.75 498.56,135.77 497.39,135.79 C496.22,135.81 495.05,135.82 493.89,135.84 C492.72,135.86 491.55,135.87 490.38,135.89 C489.22,135.91 488.05,135.92 486.88,135.94 C485.71,135.96 484.54,135.98 483.38,135.99 C482.21,136.01 481.04,136.03 479.87,136.05 C478.71,136.06 477.54,136.08 476.37,136.1 C475.2,136.12 474.03,136.13 472.87,136.15 C471.7,136.17 470.53,136.19 469.36,136.21 C468.19,136.23 467.03,136.25 465.86,136.27 C464.69,136.29 463.52,136.31 462.36,136.34 C461.19,136.36 460.02,136.39 458.85,136.41 C457.68,136.44 456.52,136.47 455.35,136.51 C454.18,136.54 453.01,136.58 451.85,136.62 C450.68,136.67 449.51,136.72 448.34,136.77 C447.17,136.82 446.01,136.88 444.84,136.94 C443.67,137 442.5,137.07 441.34,137.14 C440.17,137.21 439,137.28 437.83,137.36 C436.66,137.44 435.5,137.52 434.33,137.6 C433.16,137.69 431.99,137.77 430.83,137.86 C429.66,137.95 428.49,138.04 427.32,138.14 C426.15,138.23 424.99,138.32 423.82,138.42 C422.65,138.52 421.48,138.62 420.32,138.72 C419.15,138.82 417.98,138.92 416.81,139.03 C415.64,139.13 414.48,139.24 413.31,139.35 C412.14,139.45 410.97,139.56 409.81,139.68 C408.64,139.79 407.47,139.9 406.3,140.02 C405.13,140.13 403.97,140.25 402.8,140.37 C401.63,140.48 400.46,140.61 399.29,140.73 C398.13,140.85 396.96,140.97 395.79,141.1 C394.62,141.22 393.46,141.35 392.29,141.48 C391.12,141.61 389.95,141.74 388.78,141.87 C387.62,142 386.45,142.14 385.28,142.27 C384.11,142.41 382.95,142.54 381.78,142.68 C380.61,142.82 379.44,142.96 378.27,143.11 C377.11,143.25 375.94,143.39 374.77,143.54 C373.6,143.68 372.44,143.83 371.27,143.98 C370.1,144.13 368.93,144.28 367.76,144.43 C366.6,144.59 365.43,144.74 364.26,144.9 C363.09,145.05 361.93,145.21 360.76,145.37 C359.59,145.53 358.42,145.69 357.25,145.85 C356.09,146.02 354.92,146.18 353.75,146.35 C352.58,146.51 351.42,146.68 350.25,146.85 C349.08,147.02 347.91,147.19 346.74,147.37 C345.58,147.54 344.41,147.71 343.24,147.89 C342.07,148.07 340.91,148.24 339.74,148.42 C338.57,148.6 337.4,148.79 336.23,148.97 C335.07,149.15 333.9,149.34 332.73,149.52 C331.56,149.71 330.39,149.9 329.23,150.09 C328.06,150.28 326.89,150.47 325.72,150.67 C324.56,150.86 323.39,151.05 322.22,151.25 C321.05,151.45 319.88,151.65 318.72,151.85 C317.55,152.05 316.38,152.25 315.21,152.45 C314.05,152.66 312.88,152.86 311.71,153.07 C310.54,153.28 309.37,153.49 308.21,153.7 C307.04,153.91 305.87,154.12 304.7,154.33 C303.54,154.55 301.78,154.87 301.2,154.98 Z" fill="#a2a8ad"/>
<path d="M301.2,141.59 C301.78,141.44 303.54,141.02 304.7,140.73 C305.87,140.45 307.04,140.17 308.21,139.89 C309.37,139.6 310.54,139.32 311.71,139.04 C312.88,138.76 314.05,138.48 315.21,138.2 C316.38,137.92 317.55,137.64 318.72,137.36 C319.88,137.09 321.05,136.81 322.22,136.53 C323.39,136.25 324.56,135.98 325.72,135.7 C326.89,135.43 328.06,135.15 329.23,134.88 C330.39,134.6 331.56,134.33 332.73,134.05 C333.9,133.78 335.07,133.51 336.23,133.24 C337.4,132.96 338.57,132.69 339.74,132.42 C340.91,132.15 342.07,131.88 343.24,131.61 C344.41,131.34 345.58,131.08 346.74,130.81 C347.91,130.54 349.08,130.27 350.25,130 C351.42,129.74 352.58,129.47 353.75,129.21 C354.92,128.94 356.09,128.68 357.25,128.41 C358.42,128.15 359.59,127.88 360.76,127.62 C361.93,127.36 363.09,127.1 364.26,126.83 C365.43,126.57 366.6,126.31 367.76,126.05 C368.93,125.79 370.1,125.53 371.27,125.27 C372.44,125.01 373.6,124.75 374.77,124.5 C375.94,124.24 377.11,123.98 378.27,123.73 C379.44,123.47 380.61,123.21 381.78,122.96 C382.95,122.7 384.11,122.45 385.28,122.19 C386.45,121.94 387.62,121.69 388.78,121.43 C389.95,121.18 391.12,120.93 392.29,120.68 C393.46,120.43 394.62,120.18 395.79,119.93 C396.96,119.68 398.13,119.43 399.29,119.18 C400.46,118.93 401.63,118.69 402.8,118.44 C403.97,118.19 405.13,117.95 406.3,117.7 C407.47,117.46 408.64,117.22 409.81,116.98 C410.97,116.74 412.14,116.5 413.31,116.26 C414.48,116.02 415.64,115.79 416.81,115.56 C417.98,115.33 419.15,115.1 420.32,114.88 C421.48,114.67 422.65,114.45 423.82,114.25 C424.99,114.04 426.15,113.84 427.32,113.66 C428.49,113.48 429.66,113.3 430.83,113.14 C431.99,112.98 433.16,112.84 434.33,112.7 C435.5,112.57 436.66,112.45 437.83,112.34 C439,112.23 440.17,112.13 441.34,112.04 C442.5,111.95 443.67,111.86 444.84,111.79 C446.01,111.71 447.17,111.64 448.34,111.56 C449.51,111.49 450.68,111.43 451.85,111.36 C453.01,111.3 454.18,111.24 455.35,111.17 C456.52,111.11 457.68,111.05 458.85,110.99 C460.02,110.93 461.19,110.87 462.36,110.81 C463.52,110.75 464.69,110.69 465.86,110.63 C467.03,110.58 468.19,110.52 469.36,110.46 C470.53,110.4 471.7,110.34 472.87,110.28 C474.03,110.23 475.2,110.17 476.37,110.11 C477.54,110.05 478.71,109.99 479.87,109.93 C481.04,109.88 482.21,109.82 483.38,109.76 C484.54,109.7 485.71,109.64 486.88,109.59 C488.05,109.53 489.22,109.47 490.38,109.41 C491.55,109.35 492.72,109.3 493.89,109.24 C495.05,109.18 496.22,109.12 497.39,109.06 C498.56,109 499.73,108.95 500.89,108.89 C502.06,108.83 503.23,108.77 504.4,108.71 C505.56,108.66 507.32,108.57 507.9,108.54 L507.9,126.29 C507.32,126.31 505.56,126.37 504.4,126.4 C503.23,126.44 502.06,126.48 500.89,126.52 C499.73,126.56 498.56,126.6 497.39,126.64 C496.22,126.68 495.05,126.72 493.89,126.75 C492.72,126.79 491.55,126.83 490.38,126.87 C489.22,126.91 488.05,126.95 486.88,126.99 C485.71,127.03 484.54,127.07 483.38,127.11 C482.21,127.14 481.04,127.18 479.87,127.22 C478.71,127.26 477.54,127.3 476.37,127.34 C475.2,127.38 474.03,127.42 472.87,127.46 C471.7,127.5 470.53,127.54 469.36,127.59 C468.19,127.63 467.03,127.67 465.86,127.72 C464.69,127.76 463.52,127.81 462.36,127.86 C461.19,127.91 460.02,127.96 458.85,128.01 C457.68,128.07 456.52,128.13 455.35,128.19 C454.18,128.25 453.01,128.32 451.85,128.39 C450.68,128.47 449.51,128.55 448.34,128.63 C447.17,128.71 446.01,128.8 444.84,128.89 C443.67,128.99 442.5,129.09 441.34,129.19 C440.17,129.29 439,129.39 437.83,129.5 C436.66,129.61 435.5,129.72 434.33,129.84 C433.16,129.95 431.99,130.07 430.83,130.19 C429.66,130.3 428.49,130.43 427.32,130.55 C426.15,130.67 424.99,130.8 423.82,130.92 C422.65,131.05 421.48,131.18 420.32,131.31 C419.15,131.44 417.98,131.57 416.81,131.71 C415.64,131.84 414.48,131.98 413.31,132.12 C412.14,132.25 410.97,132.39 409.81,132.53 C408.64,132.68 407.47,132.82 406.3,132.96 C405.13,133.11 403.97,133.25 402.8,133.4 C401.63,133.55 400.46,133.7 399.29,133.85 C398.13,134 396.96,134.16 395.79,134.31 C394.62,134.47 393.46,134.62 392.29,134.78 C391.12,134.94 389.95,135.1 388.78,135.26 C387.62,135.43 386.45,135.59 385.28,135.76 C384.11,135.92 382.95,136.09 381.78,136.26 C380.61,136.43 379.44,136.6 378.27,136.77 C377.11,136.94 375.94,137.11 374.77,137.29 C373.6,137.47 372.44,137.64 371.27,137.82 C370.1,138 368.93,138.18 367.76,138.37 C366.6,138.55 365.43,138.73 364.26,138.92 C363.09,139.1 361.93,139.29 360.76,139.48 C359.59,139.67 358.42,139.86 357.25,140.05 C356.09,140.25 354.92,140.44 353.75,140.64 C352.58,140.83 351.42,141.03 350.25,141.23 C349.08,141.43 347.91,141.63 346.74,141.84 C345.58,142.04 344.41,142.24 343.24,142.45 C342.07,142.66 340.91,142.87 339.74,143.08 C338.57,143.29 337.4,143.5 336.23,143.71 C335.07,143.92 333.9,144.14 332.73,144.36 C331.56,144.57 330.39,144.79 329.23,145.01 C328.06,145.23 326.89,145.46 325.72,145.68 C324.56,145.9 323.39,146.13 322.22,146.36 C321.05,146.58 319.88,146.81 318.72,147.04 C317.55,147.27 316.38,147.5 315.21,147.74 C314.05,147.97 312.88,148.21 311.71,148.45 C310.54,148.68 309.37,148.92 308.21,149.16 C307.04,149.4 305.87,149.65 304.7,149.89 C303.54,150.14 301.78,150.51 301.2,150.63 Z" fill="#8dd3f0"/>
<path d="M301.2,147.06 C301.78,146.93 303.54,146.54 304.7,146.28 C305.87,146.03 307.04,145.77 308.21,145.51 C309.37,145.25 310.54,145 311.71,144.74 C312.88,144.49 314.05,144.23 315.21,143.98 C316.38,143.73 317.55,143.47 318.72,143.22 C319.88,142.97 321.05,142.72 322.22,142.47 C323.39,142.22 324.56,141.97 325.72,141.72 C326.89,141.47 328.06,141.22 329.23,140.98 C330.39,140.73 331.56,140.49 332.73,140.24 C333.9,140 335.07,139.75 336.23,139.51 C337.4,139.26 338.57,139.02 339.74,138.78 C340.91,138.54 342.07,138.3 343.24,138.06 C344.41,137.82 345.58,137.58 346.74,137.34 C347.91,137.1 349.08,136.87 350.25,136.63 C351.42,136.39 352.58,136.16 353.75,135.92 C354.92,135.69 356.09,135.45 357.25,135.22 C358.42,134.99 359.59,134.75 360.76,134.52 C361.93,134.29 363.09,134.06 364.26,133.83 C365.43,133.6 366.6,133.37 367.76,133.15 C368.93,132.92 370.1,132.69 371.27,132.46 C372.44,132.24 373.6,132.01 374.77,131.79 C375.94,131.56 377.11,131.34 378.27,131.12 C379.44,130.89 380.61,130.67 381.78,130.45 C382.95,130.23 384.11,130.01 385.28,129.79 C386.45,129.57 387.62,129.35 388.78,129.14 C389.95,128.92 391.12,128.7 392.29,128.48 C393.46,128.27 394.62,128.05 395.79,127.84 C396.96,127.63 398.13,127.41 399.29,127.2 C400.46,126.99 401.63,126.78 402.8,126.57 C403.97,126.35 405.13,126.15 406.3,125.94 C407.47,125.73 408.64,125.52 409.81,125.31 C410.97,125.11 412.14,124.9 413.31,124.7 C414.48,124.49 415.64,124.29 416.81,124.09 C417.98,123.89 419.15,123.69 420.32,123.49 C421.48,123.3 422.65,123.1 423.82,122.91 C424.99,122.72 426.15,122.53 427.32,122.35 C428.49,122.16 429.66,121.98 430.83,121.81 C431.99,121.64 433.16,121.47 434.33,121.32 C435.5,121.16 436.66,121.01 437.83,120.88 C439,120.75 440.17,120.62 441.34,120.51 C442.5,120.4 443.67,120.3 444.84,120.21 C446.01,120.12 447.17,120.04 448.34,119.97 C449.51,119.89 450.68,119.83 451.85,119.77 C453.01,119.71 454.18,119.66 455.35,119.61 C456.52,119.56 457.68,119.52 458.85,119.47 C460.02,119.43 461.19,119.38 462.36,119.34 C463.52,119.3 464.69,119.26 465.86,119.22 C467.03,119.18 468.19,119.15 469.36,119.11 C470.53,119.07 471.7,119.03 472.87,118.99 C474.03,118.96 475.2,118.92 476.37,118.88 C477.54,118.84 478.71,118.81 479.87,118.77 C481.04,118.73 482.21,118.69 483.38,118.66 C484.54,118.62 485.71,118.58 486.88,118.55 C488.05,118.51 489.22,118.47 490.38,118.43 C491.55,118.4 492.72,118.36 493.89,118.32 C495.05,118.29 496.22,118.25 497.39,118.21 C498.56,118.18 499.73,118.14 500.89,118.1 C502.06,118.06 503.23,118.03 504.4,117.99 C505.56,117.95 507.32,117.9 507.9,117.88" fill="none" stroke="#235675" stroke-width="1.4"/>
<path d="M301.2,78.35 H507.9" stroke="#8e2a48" stroke-width="1.3"/>
<path d="M301.2,120.5 H507.9" stroke="#8e2a48" stroke-width="1.3"/>
<g stroke="#1a1a1a" stroke-width="1.3" fill="none">
<path d="M301.2,19.4 V170.8 H510.9"/>
<path d="M301.2,170.8 v3"/>
<path d="M350.41,170.8 v3"/>
<path d="M399.63,170.8 v3"/>
<path d="M439,170.8 v3"/>
<path d="M507.9,170.8 v3"/>
<path d="M301.2,170.8 h-3"/>
<path d="M301.2,133.7 h-3"/>
<path d="M301.2,96.6 h-3"/>
<path d="M301.2,59.5 h-3"/>
<path d="M301.2,22.4 h-3"/>
</g>
<g font-size="8.8" fill="#111" text-anchor="middle">
<text x="301.2" y="184.8">1</text>
<text x="350.41" y="184.8">6</text>
<text x="399.63" y="184.8">11</text>
<text x="439" y="184.8">15</text>
<text x="507.9" y="184.8">22</text>
</g><g font-size="8.8" fill="#111" text-anchor="end">
<text x="294.4" y="173.2">0</text>
<text x="294.4" y="136.1">10</text>
<text x="294.4" y="99">20</text>
<text x="294.4" y="61.9">30</text>
<text x="294.4" y="24.8">40</text>
</g>
<text transform="translate(277.9,95.5) rotate(-90)" text-anchor="middle" font-size="9" fill="#111" stroke="#111" stroke-width="0.4" textLength="85.6" lengthAdjust="spacingAndGlyphs">Fludarabine AUC (mg·hr/L)</text>
<text x="406" y="198.6" text-anchor="middle" font-size="9.6" fill="#111" stroke="#111" stroke-width="0.4" textLength="35.6" lengthAdjust="spacingAndGlyphs">Age (years)</text>
<path d="M37.6,325.09 C38.18,324.78 39.92,323.86 41.09,323.25 C42.25,322.63 43.41,322.02 44.57,321.42 C45.74,320.81 46.9,320.2 48.06,319.6 C49.22,319 50.38,318.4 51.55,317.8 C52.71,317.2 53.87,316.6 55.03,316.01 C56.19,315.42 57.36,314.83 58.52,314.24 C59.68,313.65 60.84,313.07 62.01,312.48 C63.17,311.9 64.33,311.32 65.49,310.74 C66.65,310.16 67.82,309.58 68.98,309.01 C70.14,308.44 71.3,307.86 72.46,307.3 C73.63,306.73 74.79,306.16 75.95,305.6 C77.11,305.03 78.28,304.47 79.44,303.91 C80.6,303.35 81.76,302.8 82.92,302.24 C84.09,301.69 85.25,301.14 86.41,300.59 C87.57,300.04 88.73,299.49 89.9,298.95 C91.06,298.4 92.22,297.86 93.38,297.32 C94.55,296.78 95.71,296.24 96.87,295.71 C98.03,295.17 99.19,294.64 100.36,294.11 C101.52,293.58 102.68,293.05 103.84,292.53 C105,292 106.17,291.48 107.33,290.96 C108.49,290.44 109.65,289.92 110.82,289.41 C111.98,288.89 113.14,288.38 114.3,287.87 C115.46,287.36 116.63,286.85 117.79,286.34 C118.95,285.84 120.11,285.34 121.27,284.84 C122.44,284.33 123.6,283.84 124.76,283.34 C125.92,282.85 127.09,282.35 128.25,281.86 C129.41,281.37 130.57,280.88 131.73,280.4 C132.9,279.91 134.06,279.43 135.22,278.94 C136.38,278.46 137.54,277.98 138.71,277.51 C139.87,277.03 141.03,276.56 142.19,276.09 C143.36,275.61 144.52,275.15 145.68,274.68 C146.84,274.21 148,273.75 149.17,273.29 C150.33,272.83 151.49,272.37 152.65,271.91 C153.81,271.45 154.98,271 156.14,270.55 C157.3,270.1 158.46,269.65 159.63,269.2 C160.79,268.76 161.95,268.32 163.11,267.88 C164.27,267.44 165.44,267.01 166.6,266.58 C167.76,266.15 168.92,265.73 170.08,265.32 C171.25,264.91 172.41,264.51 173.57,264.14 C174.73,263.76 175.9,263.4 177.06,263.08 C178.22,262.76 179.38,262.47 180.54,262.22 C181.71,261.98 182.87,261.78 184.03,261.61 C185.19,261.44 186.35,261.32 187.52,261.21 C188.68,261.11 189.84,261.03 191,260.96 C192.17,260.88 193.33,260.83 194.49,260.77 C195.65,260.71 196.81,260.67 197.98,260.62 C199.14,260.57 200.3,260.53 201.46,260.48 C202.62,260.44 203.79,260.39 204.95,260.35 C206.11,260.31 207.27,260.26 208.44,260.22 C209.6,260.18 210.76,260.14 211.92,260.09 C213.08,260.05 214.25,260.01 215.41,259.97 C216.57,259.93 217.73,259.88 218.89,259.84 C220.06,259.8 221.22,259.76 222.38,259.72 C223.54,259.67 224.71,259.63 225.87,259.59 C227.03,259.55 228.19,259.5 229.35,259.46 C230.52,259.42 231.68,259.38 232.84,259.34 C234,259.29 235.16,259.25 236.33,259.21 C237.49,259.17 238.65,259.13 239.81,259.08 C240.98,259.04 242.72,258.98 243.3,258.96 L243.3,324.91 C242.72,324.94 240.98,325.02 239.81,325.07 C238.65,325.12 237.49,325.17 236.33,325.22 C235.16,325.27 234,325.32 232.84,325.38 C231.68,325.43 230.52,325.48 229.35,325.53 C228.19,325.58 227.03,325.63 225.87,325.68 C224.71,325.73 223.54,325.79 222.38,325.84 C221.22,325.89 220.06,325.94 218.89,325.99 C217.73,326.04 216.57,326.09 215.41,326.15 C214.25,326.2 213.08,326.25 211.92,326.3 C210.76,326.35 209.6,326.41 208.44,326.46 C207.27,326.51 206.11,326.57 204.95,326.62 C203.79,326.68 202.62,326.73 201.46,326.79 C200.3,326.84 199.14,326.9 197.98,326.96 C196.81,327.02 195.65,327.08 194.49,327.15 C193.33,327.22 192.17,327.29 191,327.37 C189.84,327.44 188.68,327.53 187.52,327.62 C186.35,327.71 185.19,327.81 184.03,327.91 C182.87,328.02 181.71,328.14 180.54,328.27 C179.38,328.4 178.22,328.53 177.06,328.68 C175.9,328.82 174.73,328.98 173.57,329.14 C172.41,329.3 171.25,329.47 170.08,329.64 C168.92,329.81 167.76,329.99 166.6,330.17 C165.44,330.35 164.27,330.53 163.11,330.72 C161.95,330.91 160.79,331.1 159.63,331.29 C158.46,331.48 157.3,331.68 156.14,331.88 C154.98,332.07 153.81,332.27 152.65,332.47 C151.49,332.68 150.33,332.88 149.17,333.08 C148,333.29 146.84,333.49 145.68,333.7 C144.52,333.91 143.36,334.12 142.19,334.33 C141.03,334.54 139.87,334.75 138.71,334.97 C137.54,335.18 136.38,335.4 135.22,335.62 C134.06,335.84 132.9,336.05 131.73,336.28 C130.57,336.5 129.41,336.72 128.25,336.94 C127.09,337.17 125.92,337.39 124.76,337.62 C123.6,337.85 122.44,338.08 121.27,338.31 C120.11,338.54 118.95,338.77 117.79,339 C116.63,339.24 115.46,339.47 114.3,339.71 C113.14,339.95 111.98,340.19 110.82,340.43 C109.65,340.67 108.49,340.91 107.33,341.15 C106.17,341.39 105,341.64 103.84,341.89 C102.68,342.13 101.52,342.38 100.36,342.63 C99.19,342.88 98.03,343.13 96.87,343.38 C95.71,343.64 94.55,343.89 93.38,344.15 C92.22,344.4 91.06,344.66 89.9,344.92 C88.73,345.18 87.57,345.44 86.41,345.7 C85.25,345.97 84.09,346.23 82.92,346.5 C81.76,346.76 80.6,347.03 79.44,347.3 C78.28,347.57 77.11,347.84 75.95,348.11 C74.79,348.38 73.63,348.65 72.46,348.93 C71.3,349.2 70.14,349.48 68.98,349.76 C67.82,350.04 66.65,350.32 65.49,350.6 C64.33,350.88 63.17,351.16 62.01,351.45 C60.84,351.73 59.68,352.02 58.52,352.31 C57.36,352.6 56.19,352.89 55.03,353.18 C53.87,353.47 52.71,353.76 51.55,354.05 C50.38,354.35 49.22,354.64 48.06,354.94 C46.9,355.24 45.74,355.54 44.57,355.84 C43.41,356.14 42.25,356.44 41.09,356.75 C39.92,357.05 38.18,357.51 37.6,357.66 Z" fill="#a2a8ad"/>
<path d="M37.6,336.16 C38.18,335.91 39.92,335.15 41.09,334.65 C42.25,334.15 43.41,333.65 44.57,333.16 C45.74,332.66 46.9,332.17 48.06,331.68 C49.22,331.19 50.38,330.7 51.55,330.21 C52.71,329.73 53.87,329.24 55.03,328.76 C56.19,328.28 57.36,327.8 58.52,327.32 C59.68,326.85 60.84,326.37 62.01,325.9 C63.17,325.42 64.33,324.95 65.49,324.49 C66.65,324.02 67.82,323.55 68.98,323.09 C70.14,322.62 71.3,322.16 72.46,321.7 C73.63,321.24 74.79,320.78 75.95,320.33 C77.11,319.87 78.28,319.42 79.44,318.97 C80.6,318.52 81.76,318.07 82.92,317.63 C84.09,317.18 85.25,316.74 86.41,316.29 C87.57,315.85 88.73,315.41 89.9,314.98 C91.06,314.54 92.22,314.1 93.38,313.67 C94.55,313.24 95.71,312.81 96.87,312.38 C98.03,311.95 99.19,311.53 100.36,311.1 C101.52,310.68 102.68,310.26 103.84,309.84 C105,309.42 106.17,309 107.33,308.59 C108.49,308.17 109.65,307.76 110.82,307.35 C111.98,306.94 113.14,306.53 114.3,306.12 C115.46,305.72 116.63,305.31 117.79,304.91 C118.95,304.51 120.11,304.11 121.27,303.71 C122.44,303.32 123.6,302.92 124.76,302.53 C125.92,302.14 127.09,301.75 128.25,301.36 C129.41,300.97 130.57,300.59 131.73,300.2 C132.9,299.82 134.06,299.44 135.22,299.06 C136.38,298.68 137.54,298.3 138.71,297.93 C139.87,297.55 141.03,297.18 142.19,296.81 C143.36,296.44 144.52,296.07 145.68,295.71 C146.84,295.34 148,294.98 149.17,294.62 C150.33,294.26 151.49,293.9 152.65,293.55 C153.81,293.19 154.98,292.84 156.14,292.49 C157.3,292.14 158.46,291.8 159.63,291.46 C160.79,291.12 161.95,290.78 163.11,290.44 C164.27,290.11 165.44,289.78 166.6,289.46 C167.76,289.14 168.92,288.83 170.08,288.52 C171.25,288.22 172.41,287.92 173.57,287.64 C174.73,287.36 175.9,287.09 177.06,286.84 C178.22,286.59 179.38,286.35 180.54,286.13 C181.71,285.91 182.87,285.71 184.03,285.52 C185.19,285.34 186.35,285.17 187.52,285.02 C188.68,284.86 189.84,284.73 191,284.59 C192.17,284.46 193.33,284.34 194.49,284.23 C195.65,284.11 196.81,284.01 197.98,283.9 C199.14,283.8 200.3,283.7 201.46,283.6 C202.62,283.5 203.79,283.41 204.95,283.31 C206.11,283.22 207.27,283.12 208.44,283.03 C209.6,282.94 210.76,282.85 211.92,282.76 C213.08,282.67 214.25,282.57 215.41,282.48 C216.57,282.39 217.73,282.3 218.89,282.21 C220.06,282.12 221.22,282.03 222.38,281.94 C223.54,281.85 224.71,281.76 225.87,281.67 C227.03,281.58 228.19,281.49 229.35,281.4 C230.52,281.31 231.68,281.22 232.84,281.13 C234,281.04 235.16,280.95 236.33,280.86 C237.49,280.78 238.65,280.69 239.81,280.6 C240.98,280.51 242.72,280.37 243.3,280.33 L243.3,311.1 C242.72,311.11 240.98,311.14 239.81,311.16 C238.65,311.18 237.49,311.2 236.33,311.22 C235.16,311.24 234,311.26 232.84,311.28 C231.68,311.3 230.52,311.32 229.35,311.35 C228.19,311.37 227.03,311.39 225.87,311.41 C224.71,311.43 223.54,311.45 222.38,311.48 C221.22,311.5 220.06,311.52 218.89,311.55 C217.73,311.57 216.57,311.6 215.41,311.62 C214.25,311.65 213.08,311.68 211.92,311.71 C210.76,311.74 209.6,311.78 208.44,311.82 C207.27,311.86 206.11,311.9 204.95,311.95 C203.79,312.01 202.62,312.07 201.46,312.14 C200.3,312.21 199.14,312.29 197.98,312.38 C196.81,312.47 195.65,312.58 194.49,312.69 C193.33,312.81 192.17,312.94 191,313.08 C189.84,313.22 188.68,313.38 187.52,313.54 C186.35,313.7 185.19,313.87 184.03,314.05 C182.87,314.23 181.71,314.42 180.54,314.61 C179.38,314.8 178.22,314.99 177.06,315.19 C175.9,315.39 174.73,315.6 173.57,315.8 C172.41,316.01 171.25,316.22 170.08,316.43 C168.92,316.65 167.76,316.86 166.6,317.08 C165.44,317.3 164.27,317.52 163.11,317.75 C161.95,317.97 160.79,318.2 159.63,318.42 C158.46,318.65 157.3,318.88 156.14,319.12 C154.98,319.35 153.81,319.59 152.65,319.82 C151.49,320.06 150.33,320.3 149.17,320.54 C148,320.79 146.84,321.03 145.68,321.28 C144.52,321.53 143.36,321.77 142.19,322.03 C141.03,322.28 139.87,322.53 138.71,322.79 C137.54,323.04 136.38,323.3 135.22,323.56 C134.06,323.82 132.9,324.09 131.73,324.35 C130.57,324.62 129.41,324.88 128.25,325.15 C127.09,325.42 125.92,325.69 124.76,325.97 C123.6,326.24 122.44,326.52 121.27,326.8 C120.11,327.07 118.95,327.36 117.79,327.64 C116.63,327.92 115.46,328.21 114.3,328.49 C113.14,328.78 111.98,329.07 110.82,329.36 C109.65,329.66 108.49,329.95 107.33,330.25 C106.17,330.54 105,330.84 103.84,331.14 C102.68,331.44 101.52,331.75 100.36,332.05 C99.19,332.36 98.03,332.66 96.87,332.97 C95.71,333.28 94.55,333.6 93.38,333.91 C92.22,334.23 91.06,334.54 89.9,334.86 C88.73,335.18 87.57,335.5 86.41,335.82 C85.25,336.15 84.09,336.47 82.92,336.8 C81.76,337.13 80.6,337.46 79.44,337.79 C78.28,338.12 77.11,338.46 75.95,338.8 C74.79,339.13 73.63,339.47 72.46,339.81 C71.3,340.15 70.14,340.5 68.98,340.84 C67.82,341.19 66.65,341.54 65.49,341.89 C64.33,342.24 63.17,342.59 62.01,342.95 C60.84,343.3 59.68,343.66 58.52,344.02 C57.36,344.38 56.19,344.74 55.03,345.1 C53.87,345.47 52.71,345.83 51.55,346.2 C50.38,346.57 49.22,346.94 48.06,347.31 C46.9,347.69 45.74,348.06 44.57,348.44 C43.41,348.81 42.25,349.19 41.09,349.58 C39.92,349.96 38.18,350.54 37.6,350.73 Z" fill="#8dd3f0"/>
<path d="M37.6,345.42 C38.18,345.19 39.92,344.5 41.09,344.05 C42.25,343.6 43.41,343.15 44.57,342.7 C45.74,342.25 46.9,341.81 48.06,341.36 C49.22,340.92 50.38,340.48 51.55,340.04 C52.71,339.6 53.87,339.16 55.03,338.73 C56.19,338.29 57.36,337.86 58.52,337.43 C59.68,337 60.84,336.57 62.01,336.15 C63.17,335.72 64.33,335.3 65.49,334.87 C66.65,334.45 67.82,334.03 68.98,333.62 C70.14,333.2 71.3,332.78 72.46,332.37 C73.63,331.96 74.79,331.55 75.95,331.14 C77.11,330.73 78.28,330.33 79.44,329.92 C80.6,329.52 81.76,329.12 82.92,328.72 C84.09,328.32 85.25,327.92 86.41,327.53 C87.57,327.13 88.73,326.74 89.9,326.35 C91.06,325.96 92.22,325.57 93.38,325.18 C94.55,324.8 95.71,324.41 96.87,324.03 C98.03,323.65 99.19,323.27 100.36,322.89 C101.52,322.52 102.68,322.14 103.84,321.77 C105,321.4 106.17,321.03 107.33,320.66 C108.49,320.29 109.65,319.92 110.82,319.56 C111.98,319.19 113.14,318.83 114.3,318.47 C115.46,318.11 116.63,317.76 117.79,317.4 C118.95,317.05 120.11,316.69 121.27,316.34 C122.44,315.99 123.6,315.64 124.76,315.3 C125.92,314.95 127.09,314.61 128.25,314.27 C129.41,313.92 130.57,313.58 131.73,313.25 C132.9,312.91 134.06,312.57 135.22,312.24 C136.38,311.91 137.54,311.58 138.71,311.25 C139.87,310.92 141.03,310.6 142.19,310.27 C143.36,309.95 144.52,309.63 145.68,309.31 C146.84,308.99 148,308.67 149.17,308.35 C150.33,308.04 151.49,307.73 152.65,307.42 C153.81,307.11 154.98,306.8 156.14,306.49 C157.3,306.19 158.46,305.89 159.63,305.59 C160.79,305.29 161.95,304.99 163.11,304.69 C164.27,304.4 165.44,304.11 166.6,303.82 C167.76,303.54 168.92,303.25 170.08,302.97 C171.25,302.7 172.41,302.42 173.57,302.15 C174.73,301.89 175.9,301.63 177.06,301.38 C178.22,301.13 179.38,300.88 180.54,300.66 C181.71,300.43 182.87,300.21 184.03,300.01 C185.19,299.82 186.35,299.63 187.52,299.47 C188.68,299.31 189.84,299.17 191,299.05 C192.17,298.93 193.33,298.83 194.49,298.75 C195.65,298.66 196.81,298.6 197.98,298.54 C199.14,298.49 200.3,298.45 201.46,298.41 C202.62,298.38 203.79,298.36 204.95,298.34 C206.11,298.32 207.27,298.31 208.44,298.3 C209.6,298.29 210.76,298.28 211.92,298.28 C213.08,298.27 214.25,298.27 215.41,298.26 C216.57,298.26 217.73,298.26 218.89,298.26 C220.06,298.26 221.22,298.26 222.38,298.26 C223.54,298.26 224.71,298.26 225.87,298.26 C227.03,298.26 228.19,298.26 229.35,298.26 C230.52,298.26 231.68,298.26 232.84,298.27 C234,298.27 235.16,298.27 236.33,298.27 C237.49,298.27 238.65,298.27 239.81,298.27 C240.98,298.27 242.72,298.28 243.3,298.28" fill="none" stroke="#235675" stroke-width="1.4"/>
<path d="M37.6,290.85 H243.29" stroke="#b23d63" stroke-width="2.0"/>
<path d="M37.6,332.8 H243.29" stroke="#b23d63" stroke-width="2.0"/>
<g stroke="#1a1a1a" stroke-width="1.3" fill="none">
<path d="M37.6,232 V383.4 H246.29"/>
<path d="M37.6,383.4 v3"/>
<path d="M86.58,383.4 v3"/>
<path d="M135.55,383.4 v3"/>
<path d="M174.73,383.4 v3"/>
<path d="M243.29,383.4 v3"/>
<path d="M37.6,383.4 h-3"/>
<path d="M37.6,346.3 h-3"/>
<path d="M37.6,309.2 h-3"/>
<path d="M37.6,272.1 h-3"/>
<path d="M37.6,235 h-3"/>
</g>
<g font-size="8.8" fill="#111" text-anchor="middle">
<text x="37.6" y="397.4">1</text>
<text x="86.58" y="397.4">6</text>
<text x="135.55" y="397.4">11</text>
<text x="174.73" y="397.4">15</text>
<text x="243.29" y="397.4">22</text>
</g><g font-size="8.8" fill="#111" text-anchor="end">
<text x="30.8" y="385.8">0</text>
<text x="30.8" y="348.7">10</text>
<text x="30.8" y="311.6">20</text>
<text x="30.8" y="274.5">30</text>
<text x="30.8" y="237.4">40</text>
</g>
<text transform="translate(14.3,308.1) rotate(-90)" text-anchor="middle" font-size="9" fill="#111" stroke="#111" stroke-width="0.4" textLength="85.6" lengthAdjust="spacingAndGlyphs">Fludarabine AUC (mg·hr/L)</text>
<text x="142.4" y="411.2" text-anchor="middle" font-size="9.6" fill="#111" stroke="#111" stroke-width="0.4" textLength="35.6" lengthAdjust="spacingAndGlyphs">Age (years)</text>
<path d="M301.2,314.5 C302.1,313.73 304.75,311.62 306.6,309.9 C308.45,308.18 310.17,306.1 312.3,304.2 C314.43,302.3 317.03,300.17 319.4,298.5 C321.77,296.83 324.13,295.63 326.5,294.2 C328.87,292.77 331.22,291.32 333.6,289.9 C335.98,288.48 338.65,286.77 340.8,285.7 C342.95,284.63 344.6,284.1 346.5,283.5 C348.4,282.9 350.3,282.45 352.2,282.1 C354.1,281.75 356.37,281.75 357.9,281.4 C359.43,281.05 359.73,280.88 361.4,280 C363.07,279.12 366.12,276.93 367.9,276.1 C369.68,275.27 370.2,275.48 372.1,275 C374,274.52 376.92,273.92 379.3,273.2 C381.68,272.48 384.27,271.23 386.4,270.7 C388.53,270.17 389.97,269.82 392.1,270 C394.23,270.18 396.58,271.1 399.2,271.8 C401.82,272.5 405.18,274.15 407.8,274.2 C410.42,274.25 412.53,272.92 414.9,272.1 C417.27,271.28 419.62,270.25 422,269.3 C424.38,268.35 427.05,267 429.2,266.4 C431.35,265.8 433.1,265.58 434.9,265.7 C436.7,265.82 437.97,266.38 440,267.1 C442.03,267.82 444.72,269.17 447.1,270 C449.48,270.83 451.92,271.47 454.3,272.1 C456.68,272.73 459.03,273.37 461.4,273.8 C463.77,274.23 466.13,274.8 468.5,274.7 C470.87,274.6 473.22,273.75 475.6,273.2 C477.98,272.65 480.42,271.82 482.8,271.4 C485.18,270.98 487.05,270.87 489.9,270.7 C492.75,270.53 496.9,270.6 499.9,270.4 C502.9,270.2 506.57,269.65 507.9,269.5 L507.9,333.5 C506.8,333.33 505.48,332.73 501.3,332.5 C497.12,332.27 490.63,332.17 482.8,332.1 C474.97,332.03 461.43,332.17 454.3,332.1 C447.17,332.03 443.23,331.82 440,331.7 C436.77,331.58 436.95,331.57 434.9,331.4 C432.85,331.23 429.85,330.65 427.7,330.7 C425.55,330.75 424.37,331.23 422,331.7 C419.63,332.17 416.12,333.03 413.5,333.5 C410.88,333.97 408.68,334.57 406.3,334.5 C403.92,334.43 401.6,333.3 399.2,333.1 C396.8,332.9 395.03,333.12 391.9,333.3 C388.77,333.48 384.25,333.75 380.4,334.2 C376.55,334.65 372.07,335.32 368.8,336 C365.53,336.68 363.68,337.83 360.8,338.3 C357.92,338.77 354.97,338.62 351.5,338.8 C348.03,338.98 343.68,338.85 340,339.4 C336.32,339.95 332.83,340.93 329.4,342.1 C325.97,343.27 322.73,345.1 319.4,346.4 C316.07,347.7 312.43,348.88 309.4,349.9 C306.37,350.92 302.57,352.07 301.2,352.5 Z" fill="#a2a8ad"/>
<path d="M301.2,328.5 C302.47,327.75 305.97,325.53 308.8,324 C311.63,322.47 315.52,320.63 318.2,319.3 C320.88,317.97 322.67,317.12 324.9,316 C327.13,314.88 329.35,313.62 331.6,312.6 C333.85,311.58 336.15,310.68 338.4,309.9 C340.65,309.12 342.87,308.57 345.1,307.9 C347.33,307.23 349.55,306.58 351.8,305.9 C354.05,305.22 356.4,304.45 358.6,303.8 C360.8,303.15 362.5,303 365,302 C367.5,301 370.75,299.22 373.6,297.8 C376.45,296.38 379.25,294.57 382.1,293.5 C384.95,292.43 387.62,291.75 390.7,291.4 C393.78,291.05 397.28,291.17 400.6,291.4 C403.92,291.63 407.5,292.8 410.6,292.8 C413.7,292.8 416.35,291.77 419.2,291.4 C422.05,291.03 425.08,290.73 427.7,290.6 C430.32,290.47 432.85,290.35 434.9,290.6 C436.95,290.85 437.72,291.38 440,292.1 C442.28,292.82 445.03,294.32 448.6,294.9 C452.17,295.48 456.9,295.55 461.4,295.6 C465.9,295.65 472.03,295.55 475.6,295.2 C479.17,294.85 479.23,293.9 482.8,293.5 C486.37,293.1 492.82,292.92 497,292.8 C501.18,292.68 506.08,292.8 507.9,292.8 L507.9,319.2 C505.62,319.28 498.87,319.57 494.2,319.7 C489.53,319.83 484.18,319.77 479.9,320 C475.62,320.23 472.77,321.1 468.5,321.1 C464.23,321.1 459.05,320.18 454.3,320 C449.55,319.82 443.23,320.13 440,320 C436.77,319.87 436.95,319.5 434.9,319.2 C432.85,318.9 430.32,318.27 427.7,318.2 C425.08,318.13 422.05,318.7 419.2,318.8 C416.35,318.9 414.18,318.92 410.6,318.8 C407.02,318.68 401.78,317.93 397.7,318.1 C393.62,318.27 389.95,319.03 386.1,319.8 C382.25,320.57 378.43,321.73 374.6,322.7 C370.77,323.67 366.95,324.83 363.1,325.6 C359.25,326.37 355.35,326.82 351.5,327.3 C347.65,327.78 343.68,327.7 340,328.5 C336.32,329.3 332.83,330.9 329.4,332.1 C325.97,333.3 322.73,334.4 319.4,335.7 C316.07,337 312.43,338.52 309.4,339.9 C306.37,341.28 302.57,343.32 301.2,344 Z" fill="#8dd3f0"/>
<path d="M301.2,337.5 C301.78,337.18 302.98,336.58 304.7,335.6 C306.42,334.62 309.25,332.92 311.5,331.6 C313.75,330.28 315.97,329.07 318.2,327.7 C320.43,326.33 322.67,324.57 324.9,323.4 C327.13,322.23 329.35,321.53 331.6,320.7 C333.85,319.87 336.15,319.08 338.4,318.4 C340.65,317.72 342.87,316.97 345.1,316.6 C347.33,316.23 349.55,316.35 351.8,316.2 C354.05,316.05 356.4,316.02 358.6,315.7 C360.8,315.38 362.5,315.02 365,314.3 C367.5,313.58 370.75,312.35 373.6,311.4 C376.45,310.45 379.25,309.35 382.1,308.6 C384.95,307.85 387.85,306.97 390.7,306.9 C393.55,306.83 396.35,307.75 399.2,308.2 C402.05,308.65 404.95,309.67 407.8,309.6 C410.65,309.53 413.45,308.57 416.3,307.8 C419.15,307.03 422.45,305.65 424.9,305 C427.35,304.35 428.48,303.9 431,303.9 C433.52,303.9 437.55,304.58 440,305 C442.45,305.42 443.8,305.77 445.7,306.4 C447.6,307.03 448.78,308.3 451.4,308.8 C454.02,309.3 457.37,309.33 461.4,309.4 C465.43,309.47 470.85,309.28 475.6,309.2 C480.35,309.12 485.85,309.08 489.9,308.9 C493.95,308.72 496.9,308.37 499.9,308.1 C502.9,307.83 506.57,307.43 507.9,307.3" fill="none" stroke="#235675" stroke-width="1.4"/>
<path d="M301.2,290.85 H507.9" stroke="#b23d63" stroke-width="1.9"/>
<path d="M301.2,332.5 H507.9" stroke="#b23d63" stroke-width="1.9"/>
<g stroke="#1a1a1a" stroke-width="1.3" fill="none">
<path d="M301.2,232 V383.4 H510.9"/>
<path d="M301.2,383.4 v3"/>
<path d="M350.41,383.4 v3"/>
<path d="M399.63,383.4 v3"/>
<path d="M439,383.4 v3"/>
<path d="M507.9,383.4 v3"/>
<path d="M301.2,383.4 h-3"/>
<path d="M301.2,346.3 h-3"/>
<path d="M301.2,309.2 h-3"/>
<path d="M301.2,272.1 h-3"/>
<path d="M301.2,235 h-3"/>
</g>
<g font-size="8.8" fill="#111" text-anchor="middle">
<text x="301.2" y="397.4">1</text>
<text x="350.41" y="397.4">6</text>
<text x="399.63" y="397.4">11</text>
<text x="439" y="397.4">15</text>
<text x="507.9" y="397.4">22</text>
</g><g font-size="8.8" fill="#111" text-anchor="end">
<text x="294.4" y="385.8">0</text>
<text x="294.4" y="348.7">10</text>
<text x="294.4" y="311.6">20</text>
<text x="294.4" y="274.5">30</text>
<text x="294.4" y="237.4">40</text>
</g>
<text transform="translate(277.9,308.1) rotate(-90)" text-anchor="middle" font-size="9" fill="#111" stroke="#111" stroke-width="0.4" textLength="85.6" lengthAdjust="spacingAndGlyphs">Fludarabine AUC (mg·hr/L)</text>
<text x="406" y="411.2" text-anchor="middle" font-size="9.6" fill="#111" stroke="#111" stroke-width="0.4" textLength="35.6" lengthAdjust="spacingAndGlyphs">Age (years)</text>
</svg></body></html>
